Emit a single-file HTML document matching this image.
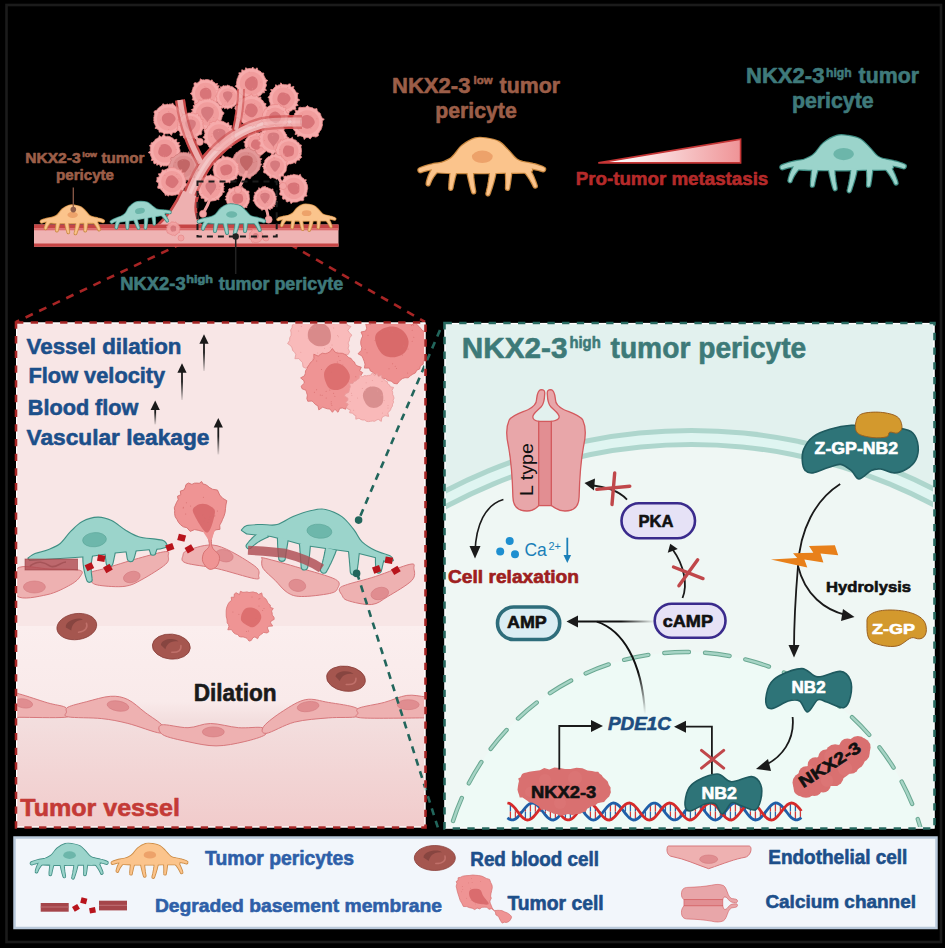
<!DOCTYPE html>
<html><head><meta charset="utf-8"><style>
html,body{margin:0;padding:0;background:#000;}
svg{display:block;}
text{font-family:"Liberation Sans",sans-serif;font-weight:bold;stroke-width:0.6px;stroke-linejoin:round;}
.pb{fill:var(--f);stroke:var(--o);stroke-width:var(--bw,2.4);stroke-linejoin:round;}
.pf{fill:var(--f);stroke:var(--f);stroke-width:var(--fw,0);stroke-linejoin:round;}
.pn{fill:var(--n);}
</style></head><body>
<svg width="945" height="948" viewBox="0 0 945 948">
<defs>
<linearGradient id="lpbg" x1="0" y1="322" x2="0" y2="828" gradientUnits="userSpaceOnUse">
<stop offset="0" stop-color="#f8e6e6"/><stop offset="0.6" stop-color="#f8e6e6"/><stop offset="0.601" stop-color="#fbeeee"/><stop offset="0.75" stop-color="#f9eaea"/><stop offset="0.787" stop-color="#f3dede"/><stop offset="1" stop-color="#f1cbcb"/>
</linearGradient>
<linearGradient id="tri" x1="598" y1="0" x2="741" y2="0" gradientUnits="userSpaceOnUse">
<stop offset="0.12" stop-color="#ffffff"/><stop offset="1" stop-color="#ef9396"/>
</linearGradient>
<linearGradient id="fadeL" x1="570" y1="0" x2="655" y2="0" gradientUnits="userSpaceOnUse">
<stop offset="0.6" stop-color="#111"/><stop offset="1" stop-color="#111" stop-opacity="0"/>
</linearGradient>
<linearGradient id="fadeD" x1="0" y1="621" x2="0" y2="714" gradientUnits="userSpaceOnUse">
<stop offset="0.55" stop-color="#111"/><stop offset="1" stop-color="#111" stop-opacity="0"/>
</linearGradient>
<clipPath id="rpclip"><rect x="445.5" y="324" width="488" height="503.5"/></clipPath>
<clipPath id="lpclip"><rect x="17" y="323.5" width="407.5" height="503"/></clipPath>
<g id="peri"><g class="pb"><path d="M20.2,36.8 C22.9,34.5 32.1,31.8 36.5,28.4 C41,25 42.9,19.8 46.9,16.5 C50.8,13.3 56,10.2 60.2,9 C64.4,7.7 68.1,8.5 72.1,9.1 C76,9.7 80.5,10.5 83.9,12.4 C87.4,14.3 89.9,17.6 92.8,20.5 C95.8,23.4 98.2,27.4 101.7,29.9 C105.2,32.3 111.3,33.2 113.6,35.3 C115.8,37.4 119.5,41.1 115,42.4 C110.6,43.8 96.5,43 86.9,43.2 C77.3,43.4 68.4,43.8 57.3,43.6 C46.1,43.5 26.4,43.6 20.2,42.4 C14,41.3 17.5,39.2 20.2,36.8Z"/><path d="M18,38.5 L17.2,39.8 L16.5,41 L15.7,42.3 L15.1,43.5 L14.5,44.8 L13.9,46.1 L13.4,47.4 L13,48.7 L12.6,50 L12.2,51.3 L11.9,52.6 L11.7,53.9 A1.5,1.5 0 0 0 14.6,54.7 L14.6,54.7 L15,53.5 L15.5,52.4 L16,51.3 L16.5,50.2 L17.1,49.1 L17.8,48 L18.4,47 L19.2,46 L19.9,44.9 L20.7,43.9 L21.6,42.9 L22.4,41.9Z"/><path d="M36,40.4 L35.8,41.9 L35.6,43.4 L35.4,44.9 L35.2,46.5 L35.1,48 L34.9,49.5 L34.8,51 L34.7,52.5 L34.5,54 L34.4,55.6 L34.4,57.1 L34.3,58.6 A1.5,1.5 0 0 0 37.3,58.9 L37.3,58.9 L37.6,57.5 L37.8,56 L38.2,54.6 L38.5,53.1 L38.8,51.7 L39.2,50.2 L39.5,48.8 L39.9,47.3 L40.3,45.9 L40.7,44.4 L41.1,43 L41.5,41.6Z"/><path d="M52.3,42 L52.5,43.6 L52.9,45.3 L53.2,47 L53.6,48.7 L54,50.4 L54.4,52.1 L54.8,53.8 L55.2,55.6 L55.7,57.4 L56.2,59.2 L56.7,61 L57.3,62.8 A1.5,1.5 0 0 0 60.2,62.1 L60.2,62.1 L59.9,60.2 L59.6,58.4 L59.3,56.6 L59,54.8 L58.8,53.1 L58.6,51.3 L58.4,49.6 L58.2,47.9 L58.1,46.3 L58,44.6 L57.9,43 L57.8,41.4Z"/><path d="M75.2,41.3 L75.1,43.2 L74.9,45 L74.7,46.9 L74.4,48.7 L74.2,50.6 L73.9,52.5 L73.5,54.4 L73.2,56.4 L72.8,58.3 L72.3,60.3 L71.9,62.2 L71.4,64.2 A1.5,1.5 0 0 0 74.2,65.1 L74.2,65.1 L75,63.2 L75.6,61.2 L76.3,59.3 L76.9,57.3 L77.5,55.4 L78.1,53.5 L78.6,51.6 L79.1,49.6 L79.6,47.7 L80,45.8 L80.4,44 L80.8,42.1Z"/><path d="M90.8,41 L90.9,42.4 L90.9,43.9 L91,45.3 L91.1,46.8 L91.1,48.3 L91.1,49.7 L91.2,51.2 L91.2,52.7 L91.2,54.1 L91.1,55.6 L91.1,57.1 L91,58.6 A1.5,1.5 0 0 0 94,58.9 L94,58.9 L94.3,57.4 L94.5,55.9 L94.8,54.5 L95,53 L95.2,51.5 L95.4,50 L95.6,48.5 L95.8,47 L96,45.5 L96.1,44 L96.2,42.5 L96.4,41Z"/><path d="M109.1,41.9 L110,42.9 L110.9,44 L111.8,45.1 L112.6,46.2 L113.4,47.4 L114.3,48.7 L115.1,49.9 L115.8,51.3 L116.6,52.6 L117.4,54.1 L118.1,55.5 L118.8,57.1 A1.5,1.5 0 0 0 121.6,56 L121.6,56 L121.1,54.3 L120.5,52.7 L119.9,51.1 L119.3,49.6 L118.7,48.1 L118,46.6 L117.4,45.2 L116.6,43.8 L115.9,42.4 L115.1,41.1 L114.4,39.8 L113.5,38.5Z"/><path d="M36.7,33.2 L33.9,33.2 L31.1,33.2 L28.4,33.3 L25.6,33.5 L22.9,33.9 L20.2,34.3 L17.6,34.8 L15,35.4 L12.4,36.1 L9.8,36.9 L7.2,37.8 L4.7,38.8 A1.9,1.9 0 0 0 6.1,42.5 L6.1,42.5 L8.5,41.7 L11,41 L13.5,40.4 L15.9,39.9 L18.4,39.5 L20.9,39.2 L23.5,39 L26,38.8 L28.6,38.8 L31.1,38.8 L33.7,39 L36.3,39.2Z"/><path d="M100.2,38 L102.8,38 L105.3,38.1 L107.8,38.2 L110.3,38.3 L112.6,38.5 L114.9,38.8 L117.2,39.1 L119.3,39.5 L121.4,40 L123.5,40.4 L125.5,41 L127.4,41.6 A1.9,1.9 0 0 0 128.8,38 L128.8,38 L126.8,37.1 L124.7,36.4 L122.6,35.7 L120.4,35 L118.1,34.5 L115.7,33.9 L113.3,33.5 L110.9,33.1 L108.3,32.7 L105.7,32.4 L103,32.2 L100.3,32Z"/></g><g class="pf"><path d="M20.2,36.8 C22.9,34.5 32.1,31.8 36.5,28.4 C41,25 42.9,19.8 46.9,16.5 C50.8,13.3 56,10.2 60.2,9 C64.4,7.7 68.1,8.5 72.1,9.1 C76,9.7 80.5,10.5 83.9,12.4 C87.4,14.3 89.9,17.6 92.8,20.5 C95.8,23.4 98.2,27.4 101.7,29.9 C105.2,32.3 111.3,33.2 113.6,35.3 C115.8,37.4 119.5,41.1 115,42.4 C110.6,43.8 96.5,43 86.9,43.2 C77.3,43.4 68.4,43.8 57.3,43.6 C46.1,43.5 26.4,43.6 20.2,42.4 C14,41.3 17.5,39.2 20.2,36.8Z"/><path d="M18,38.5 L17.2,39.8 L16.5,41 L15.7,42.3 L15.1,43.5 L14.5,44.8 L13.9,46.1 L13.4,47.4 L13,48.7 L12.6,50 L12.2,51.3 L11.9,52.6 L11.7,53.9 A1.5,1.5 0 0 0 14.6,54.7 L14.6,54.7 L15,53.5 L15.5,52.4 L16,51.3 L16.5,50.2 L17.1,49.1 L17.8,48 L18.4,47 L19.2,46 L19.9,44.9 L20.7,43.9 L21.6,42.9 L22.4,41.9Z"/><path d="M36,40.4 L35.8,41.9 L35.6,43.4 L35.4,44.9 L35.2,46.5 L35.1,48 L34.9,49.5 L34.8,51 L34.7,52.5 L34.5,54 L34.4,55.6 L34.4,57.1 L34.3,58.6 A1.5,1.5 0 0 0 37.3,58.9 L37.3,58.9 L37.6,57.5 L37.8,56 L38.2,54.6 L38.5,53.1 L38.8,51.7 L39.2,50.2 L39.5,48.8 L39.9,47.3 L40.3,45.9 L40.7,44.4 L41.1,43 L41.5,41.6Z"/><path d="M52.3,42 L52.5,43.6 L52.9,45.3 L53.2,47 L53.6,48.7 L54,50.4 L54.4,52.1 L54.8,53.8 L55.2,55.6 L55.7,57.4 L56.2,59.2 L56.7,61 L57.3,62.8 A1.5,1.5 0 0 0 60.2,62.1 L60.2,62.1 L59.9,60.2 L59.6,58.4 L59.3,56.6 L59,54.8 L58.8,53.1 L58.6,51.3 L58.4,49.6 L58.2,47.9 L58.1,46.3 L58,44.6 L57.9,43 L57.8,41.4Z"/><path d="M75.2,41.3 L75.1,43.2 L74.9,45 L74.7,46.9 L74.4,48.7 L74.2,50.6 L73.9,52.5 L73.5,54.4 L73.2,56.4 L72.8,58.3 L72.3,60.3 L71.9,62.2 L71.4,64.2 A1.5,1.5 0 0 0 74.2,65.1 L74.2,65.1 L75,63.2 L75.6,61.2 L76.3,59.3 L76.9,57.3 L77.5,55.4 L78.1,53.5 L78.6,51.6 L79.1,49.6 L79.6,47.7 L80,45.8 L80.4,44 L80.8,42.1Z"/><path d="M90.8,41 L90.9,42.4 L90.9,43.9 L91,45.3 L91.1,46.8 L91.1,48.3 L91.1,49.7 L91.2,51.2 L91.2,52.7 L91.2,54.1 L91.1,55.6 L91.1,57.1 L91,58.6 A1.5,1.5 0 0 0 94,58.9 L94,58.9 L94.3,57.4 L94.5,55.9 L94.8,54.5 L95,53 L95.2,51.5 L95.4,50 L95.6,48.5 L95.8,47 L96,45.5 L96.1,44 L96.2,42.5 L96.4,41Z"/><path d="M109.1,41.9 L110,42.9 L110.9,44 L111.8,45.1 L112.6,46.2 L113.4,47.4 L114.3,48.7 L115.1,49.9 L115.8,51.3 L116.6,52.6 L117.4,54.1 L118.1,55.5 L118.8,57.1 A1.5,1.5 0 0 0 121.6,56 L121.6,56 L121.1,54.3 L120.5,52.7 L119.9,51.1 L119.3,49.6 L118.7,48.1 L118,46.6 L117.4,45.2 L116.6,43.8 L115.9,42.4 L115.1,41.1 L114.4,39.8 L113.5,38.5Z"/><path d="M36.7,33.2 L33.9,33.2 L31.1,33.2 L28.4,33.3 L25.6,33.5 L22.9,33.9 L20.2,34.3 L17.6,34.8 L15,35.4 L12.4,36.1 L9.8,36.9 L7.2,37.8 L4.7,38.8 A1.9,1.9 0 0 0 6.1,42.5 L6.1,42.5 L8.5,41.7 L11,41 L13.5,40.4 L15.9,39.9 L18.4,39.5 L20.9,39.2 L23.5,39 L26,38.8 L28.6,38.8 L31.1,38.8 L33.7,39 L36.3,39.2Z"/><path d="M100.2,38 L102.8,38 L105.3,38.1 L107.8,38.2 L110.3,38.3 L112.6,38.5 L114.9,38.8 L117.2,39.1 L119.3,39.5 L121.4,40 L123.5,40.4 L125.5,41 L127.4,41.6 A1.9,1.9 0 0 0 128.8,38 L128.8,38 L126.8,37.1 L124.7,36.4 L122.6,35.7 L120.4,35 L118.1,34.5 L115.7,33.9 L113.3,33.5 L110.9,33.1 L108.3,32.7 L105.7,32.4 L103,32.2 L100.3,32Z"/></g><ellipse class="pn" cx="67.3" cy="27.3" rx="10.4" ry="6.2"/></g>
<marker id="ah" viewBox="0 0 10 10" refX="8" refY="5" markerWidth="4.2" markerHeight="4.2" orient="auto-start-reverse" markerUnits="strokeWidth">
<path d="M0,0 L10,5 L0,10 Z" fill="#1a1a1a"/></marker>
</defs>
<rect width="945" height="948" fill="#000"/>
<rect x="6.5" y="5" width="934.5" height="937" fill="none" stroke="#1b1b1b" stroke-width="2.6"/>

<g fill="#9c5e48" stroke="#9c5e48"><text x="392" y="92.5" font-size="22" textLength="78.4" lengthAdjust="spacingAndGlyphs">NKX2-3</text><text x="473.5" y="84.2" font-size="11.5" textLength="19" lengthAdjust="spacingAndGlyphs">low</text><text x="499.6" y="92.5" font-size="22" textLength="60.4" lengthAdjust="spacingAndGlyphs">tumor</text><text x="435.3" y="118.3" font-size="22" textLength="81.4" lengthAdjust="spacingAndGlyphs">pericyte</text></g>
<g fill="#3f7a7b" stroke="#3f7a7b"><text x="746" y="83.1" font-size="22" textLength="78.4" lengthAdjust="spacingAndGlyphs">NKX2-3</text><text x="826" y="77" font-size="12.5" textLength="25.6" lengthAdjust="spacingAndGlyphs">high</text><text x="858.6" y="83.1" font-size="22" textLength="60.4" lengthAdjust="spacingAndGlyphs">tumor</text><text x="791.9" y="108.3" font-size="22" textLength="81.8" lengthAdjust="spacingAndGlyphs">pericyte</text></g>
<path d="M598.3,162.9 L740.6,162.9 L740.6,139.3 Z" fill="url(#tri)" stroke="#c53535" stroke-width="1.6"/>
<text x="575.7" y="185.1" font-size="18.7" fill="#b52a2a" textLength="192.6" lengthAdjust="spacingAndGlyphs" stroke="#b52a2a">Pro-tumor metastasis</text>
<use href="#peri" transform="translate(415,129.5) scale(1.0)" style="--f:#fbc48c;--o:#c8873f;--n:#eda26a;--bw:2.4;--fw:0"/>
<use href="#peri" transform="translate(777,127) scale(0.99)" style="--f:#9bd4cb;--o:#3c8a80;--n:#6cb6aa;--bw:2.4;--fw:0"/>
<g fill="#9c5e48" stroke="#9c5e48"><text x="25.2" y="162.5" font-size="14.8" textLength="55.5" lengthAdjust="spacingAndGlyphs">NKX2-3</text><text x="82.2" y="157" font-size="8" textLength="14.8" lengthAdjust="spacingAndGlyphs">low</text><text x="101.5" y="162.5" font-size="14.8" textLength="42.9" lengthAdjust="spacingAndGlyphs">tumor</text><text x="56" y="180" font-size="14.8" textLength="58" lengthAdjust="spacingAndGlyphs">pericyte</text></g>
<g fill="#3f7a7b" stroke="#3f7a7b"><text x="120.2" y="290" font-size="17.8" textLength="65.5" lengthAdjust="spacingAndGlyphs">NKX2-3</text><text x="186.2" y="282.5" font-size="10.5" textLength="26.7" lengthAdjust="spacingAndGlyphs">high</text><text x="218.7" y="290" font-size="17.8" textLength="124.4" lengthAdjust="spacingAndGlyphs">tumor pericyte</text></g>
<g stroke="#a82525" stroke-width="2.6" stroke-dasharray="8 7" fill="none"><path d="M195.5,237 L16,322"/><path d="M277,237 L425,322"/></g>
<g opacity="1">
<g fill="none" stroke-linecap="butt"><path d="M180,226 C184,210 192,182 208,160 C222,143 240,130 262,124 C275,121 288,122 302,122" stroke="#c84848" stroke-width="14"/><path d="M236,130 C239,117 241,104 241,89" stroke="#c84848" stroke-width="8"/><path d="M201,163 C193,148 184,130 180,100" stroke="#c84848" stroke-width="10"/><path d="M180,226 C184,210 192,182 208,160 C222,143 240,130 262,124 C275,121 288,122 302,122" stroke="#eeb0b0" stroke-width="9"/><path d="M236,130 C239,117 241,104 241,89" stroke="#eeb0b0" stroke-width="4"/><path d="M201,163 C193,148 184,130 180,100" stroke="#eeb0b0" stroke-width="5.5"/><path d="M180,226 C184,210 192,182 208,160 C222,143 240,130 262,124 C275,121 288,122 302,122" stroke="#f3c6c6" stroke-width="3"/></g>
<path d="M158,226 C168,216 176,204 182,190 L196,196 C194,206 195,216 201,226 Z" fill="#eeb0b0"/>
<path d="M158,225 C168,216 176,204 182,190" fill="none" stroke="#c84848" stroke-width="2.6"/>
<path d="M201,226 C195,216 194,206 198,195" fill="none" stroke="#c84848" stroke-width="2.6"/>
</g>
<g><path d="M265.9,83.4 L266.5,84.7 L266.3,86 L265.6,87.2 L265.2,88.4 L266.5,90.4 L264.1,90.7 L264.7,92.7 L262.6,92.8 L261.8,93.8 L261,94.8 L260.1,95.8 L258.7,96.1 L257.8,97.2 L257,98.9 L255.3,98 L254.3,99.9 L252.7,97.9 L251.4,100 L250.1,97.9 L248.9,97.7 L247.6,97.7 L245.7,99.1 L245.1,96.9 L244.1,96.1 L242.7,95.8 L241.7,95 L241,93.8 L240.1,92.9 L237.8,92.9 L238.3,91 L238.2,89.6 L237.4,88.5 L236.7,87.3 L235.1,86.3 L236.5,84.7 L236.4,83.4 L236.6,82.1 L236.9,80.9 L237,79.5 L237.4,78.3 L238.1,77.2 L238.3,75.8 L239.3,74.9 L238.8,72.8 L240.8,72.8 L241.7,71.9 L241.8,69.7 L243.9,70.5 L245.2,70.1 L245.7,67.7 L247.5,68.8 L248.8,68.6 L250.1,68.4 L251.4,68.5 L252.8,67 L254,68.7 L255.2,69.3 L257.1,67.8 L257.8,69.7 L258.7,70.8 L260,71.1 L261,71.9 L261.7,73.1 L263.8,73 L263.6,74.8 L264.1,76.1 L264.7,77.2 L265.4,78.3 L265.8,79.5 L267.8,80.5 L266.2,82.1Z" fill="#f6abab" stroke="#e88a8a" stroke-width="0.8" stroke-linejoin="miter"/><circle cx="251.4" cy="83.4" r="11.6" fill="#f19d9d"/><path d="M257.7,83.4 C257.7,84.9 257.4,86.6 256.6,87.8 C255.8,89 254.1,90.3 252.7,90.6 C251.2,90.9 249.2,90.2 248,89.4 C246.7,88.5 245.6,87 245.1,85.7 C244.7,84.3 244.8,82.5 245.4,81.2 C245.9,79.9 247.1,78.9 248.3,78 C249.5,77.2 251.3,76 252.7,76.2 C254.1,76.3 255.9,77.7 256.8,78.9 C257.6,80.1 257.8,81.9 257.7,83.4Z" fill="#d87478"/><g fill="#e88a8a"><circle cx="260.9" cy="82.1" r="0.5"/><circle cx="249.1" cy="72" r="0.5"/><circle cx="252.6" cy="88.8" r="0.5"/><circle cx="246.5" cy="79.7" r="0.5"/><circle cx="242" cy="91.9" r="0.5"/><circle cx="255.6" cy="79" r="0.5"/></g></g>
<g><path d="M219.2,93.5 L219.2,94.7 L219,95.8 L219.2,97.1 L218.6,98.2 L218.2,99.3 L218.8,101.1 L217.1,101.5 L216.2,102.3 L215.3,103.1 L214.5,104 L213.5,104.7 L212.5,105.2 L212.3,107.6 L210.5,106.6 L209.3,106.9 L208.1,107.3 L206.9,107.2 L205.7,107.2 L204.5,107.2 L203.3,107 L201.7,108.4 L201.1,106.1 L199.9,106 L198,106.8 L197.9,104.7 L197.1,103.8 L194.8,104.4 L194.2,103.1 L194.4,101.4 L194,100.3 L192.1,99.8 L193,98.1 L192.7,97 L192.4,95.9 L191.8,94.7 L190.2,93.5 L192.1,92.3 L192,91.1 L192.4,89.9 L192.8,88.8 L193,87.6 L193.9,86.7 L194.2,85.4 L193.9,83.6 L194.8,82.6 L197.1,83.2 L198,82.4 L199,81.8 L199.9,81.1 L200.4,78.8 L202.1,79.9 L203.3,79.7 L204.5,80 L205.7,79.6 L206.9,79.6 L208.1,79.7 L209.3,80 L210.3,80.8 L212.1,79.8 L212.7,81.4 L213.7,82.1 L214.7,82.7 L215.4,83.8 L217.6,83.5 L216.8,85.7 L219.2,85.7 L218.4,87.6 L218.5,88.8 L220.2,89.6 L219.3,91.1 L219.6,92.3Z" fill="#f6abab" stroke="#e88a8a" stroke-width="0.8" stroke-linejoin="miter"/><circle cx="205.7" cy="93.5" r="10.7" fill="#f19d9d"/><path d="M211.4,93.5 C211.5,94.8 211.5,96.6 210.8,97.7 C210,98.8 208.2,99.9 206.9,100.1 C205.5,100.2 203.8,99.5 202.7,98.7 C201.5,98 200.5,96.7 200.1,95.5 C199.7,94.3 199.8,92.7 200.2,91.5 C200.7,90.4 201.8,89.2 202.9,88.6 C203.9,88 205.5,87.5 206.7,87.7 C207.9,87.9 209.4,88.8 210.2,89.8 C211,90.7 211.3,92.2 211.4,93.5Z" fill="#d87478"/><g fill="#e88a8a"><circle cx="217" cy="90.6" r="0.5"/><circle cx="204.9" cy="86.7" r="0.5"/><circle cx="200.5" cy="102.8" r="0.5"/><circle cx="207.2" cy="89.6" r="0.5"/><circle cx="211.6" cy="103.7" r="0.5"/><circle cx="213.3" cy="100.5" r="0.5"/></g></g>
<g><path d="M238.6,97 L239,98 L238.8,99 L238.5,99.9 L238.1,100.8 L238.9,102.2 L237.2,102.5 L236.8,103.4 L236.1,104 L235.6,104.9 L234.9,105.6 L234.1,106.2 L233.2,106.5 L232.3,106.9 L231.9,108.5 L230.6,107.9 L229.6,108 L228.7,108.2 L227.7,109.3 L226.7,108 L225.7,108.2 L224.6,108.8 L223.9,107.3 L222.5,108.2 L221.5,107.8 L221.3,106.1 L220.5,105.6 L219.9,104.8 L218.2,105 L218.4,103.5 L217.9,102.7 L217.5,101.7 L216.1,101.2 L216.7,99.9 L216.8,98.9 L216.5,98 L216.4,97 L215.3,95.9 L216.8,95.1 L216.8,94.1 L217.2,93.2 L217.4,92.2 L218,91.4 L218.6,90.6 L219,89.7 L219,88.3 L220.6,88.5 L220.5,86.7 L222,87.1 L222.6,86 L223.6,85.6 L224.8,86.1 L225.7,85.8 L226.7,86 L227.7,84.8 L228.7,85.8 L229.7,85.8 L230.5,86.4 L231.5,86.6 L232.4,86.8 L233.2,87.5 L234.1,87.9 L234.7,88.6 L235.6,89.1 L236.1,89.9 L236.6,90.7 L237.3,91.5 L237.6,92.4 L239.1,92.8 L238.3,94.2 L238.6,95.1 L238.7,96Z" fill="#f6abab" stroke="#e88a8a" stroke-width="0.8" stroke-linejoin="miter"/><circle cx="227.7" cy="97" r="8.7" fill="#f19d9d"/><path d="M227.7,103 C225.8,99.7 222.6,97.9 223,94.1 C223.5,90.4 231.9,90.4 232.4,94.1 C232.8,97.9 229.6,99.7 227.7,103 Z" fill="#d67a7e"/><g fill="#e88a8a"><circle cx="232.3" cy="92.5" r="0.5"/><circle cx="230.2" cy="87.5" r="0.5"/><circle cx="224.3" cy="105.2" r="0.5"/><circle cx="225.2" cy="101.3" r="0.5"/><circle cx="222.6" cy="104.2" r="0.5"/><circle cx="232.7" cy="103.7" r="0.5"/></g></g>
<g><path d="M297.6,98.6 L299.8,100 L297.8,101.1 L297.5,102.3 L296.9,103.4 L298.2,105.4 L296.2,105.9 L295.4,106.8 L295.9,108.9 L294.7,109.7 L292.9,109.6 L291.9,110.5 L290.8,111.1 L289.5,111.3 L289,113.3 L287.7,113.7 L286.1,112.8 L284.8,112.9 L283.6,113.1 L282.3,113 L281.1,113 L279.8,112.6 L278.7,112.1 L277.5,111.8 L276.5,111 L275.5,110.1 L274.4,109.6 L272.6,109.6 L272.5,108 L272.1,106.7 L271.2,105.8 L270.4,104.8 L270.2,103.5 L269.9,102.3 L269.3,101.1 L269.2,99.9 L269.1,98.6 L267.9,97.2 L269.4,96.1 L270,95 L269.9,93.6 L270.5,92.5 L271.5,91.6 L270.7,89.5 L272.9,89.6 L273.5,88.5 L274.3,87.6 L275.4,86.9 L275.6,84.7 L277.6,85.8 L278.6,84.9 L280,85 L280.8,82.8 L282.4,84.5 L283.6,84.4 L284.8,84.7 L286.1,84.7 L287.3,85 L289,83.9 L290.4,83.9 L290.6,86.4 L291.6,87.1 L293.9,86.3 L293.5,88.7 L294.5,89.4 L295.1,90.6 L295.8,91.6 L296.3,92.7 L298.4,93.2 L297.5,94.9 L297.5,96.1 L297.6,97.4Z" fill="#f6abab" stroke="#e88a8a" stroke-width="0.8" stroke-linejoin="miter"/><circle cx="283.6" cy="98.6" r="11.2" fill="#f19d9d"/><path d="M290.6,98.6 C290.6,100 289.4,101.5 288.4,102.6 C287.5,103.8 286.1,105.1 284.8,105.3 C283.5,105.6 281.7,104.7 280.5,103.9 C279.3,103.1 278,102 277.6,100.8 C277.1,99.6 277.4,97.8 277.8,96.5 C278.3,95.2 279.2,93.6 280.4,93 C281.5,92.4 283.3,92.5 284.6,92.8 C286,93.1 287.5,93.6 288.5,94.5 C289.4,95.5 290.6,97.2 290.6,98.6Z" fill="#d87478"/><g fill="#e88a8a"><circle cx="280.6" cy="86.7" r="0.5"/><circle cx="296.1" cy="99.9" r="0.5"/><circle cx="285.8" cy="94.1" r="0.5"/><circle cx="287.7" cy="87.6" r="0.5"/><circle cx="288.4" cy="110.4" r="0.5"/><circle cx="277.6" cy="105.5" r="0.5"/></g></g>
<g><path d="M185.2,119 L183.2,120.3 L184.4,121.8 L182.6,122.8 L183.8,124.6 L182.3,125.4 L183.1,127.4 L181.8,128.3 L179.8,128.4 L179.9,130.4 L178,130.3 L176.9,131 L176.1,132.1 L174.9,132.7 L173.5,132.6 L172.3,133 L171.4,135.4 L169.8,133.5 L168.5,133.6 L167.2,133.8 L165.9,133.5 L164.3,134.6 L163.4,133 L162.2,132.5 L161,132.1 L159.2,132.2 L158.9,130.5 L158,129.5 L157,128.7 L155,128.4 L155.9,126.3 L155.2,125.2 L154.8,124 L153.9,122.9 L154.1,121.5 L153.7,120.3 L154,119 L153.7,117.7 L154.1,116.5 L154.2,115.2 L154.9,114 L153.9,112.2 L154.5,110.9 L156.2,110.4 L157.3,109.6 L158,108.5 L158.9,107.6 L160,106.9 L161,105.9 L162.2,105.6 L162.9,103.7 L164.7,104.7 L166,104.7 L167.2,104 L168.5,104.5 L169.8,103.9 L171.1,104.2 L172.8,103.1 L173.6,105 L174.8,105.4 L175.7,106.5 L177.1,106.7 L177.9,107.8 L178.7,108.8 L180,109.3 L180.9,110.3 L181.1,111.7 L181.7,112.8 L182.3,114 L182.5,115.2 L183.4,116.4 L185,117.6Z" fill="#f6abab" stroke="#e88a8a" stroke-width="0.8" stroke-linejoin="miter"/><circle cx="168.5" cy="119" r="11.6" fill="#f19d9d"/><path d="M175.6,119 C175.6,120.4 174.3,121.9 173.3,123 C172.3,124.2 171.1,125.9 169.8,126.2 C168.4,126.4 166.4,125.6 165.2,124.8 C163.9,124 162.9,122.6 162.4,121.2 C161.8,119.9 161.6,117.9 162.1,116.7 C162.6,115.4 164.1,114.2 165.4,113.6 C166.6,113 168.2,112.6 169.6,112.8 C170.9,113 172.5,113.7 173.5,114.8 C174.5,115.8 175.7,117.6 175.6,119Z" fill="#d87478"/><g fill="#e88a8a"><circle cx="168.7" cy="129.5" r="0.5"/><circle cx="179.4" cy="117.1" r="0.5"/><circle cx="160.3" cy="119.9" r="0.5"/><circle cx="177.1" cy="129.2" r="0.5"/><circle cx="168.7" cy="111.4" r="0.5"/><circle cx="159" cy="112.6" r="0.5"/></g></g>
<g><path d="M223.8,113.9 L222.5,115.2 L222.3,116.5 L221.8,117.8 L221.6,119.1 L220.8,120.2 L221.9,122.3 L219.7,122.5 L218.9,123.5 L218.9,125.4 L217.9,126.4 L216.1,126.3 L215,127.1 L214.5,129.1 L212.4,127.5 L211.2,128.1 L210,128.8 L208.7,129 L207.4,128.6 L206.1,128.9 L204.5,130.2 L203.6,128 L202.2,128.1 L201,127.6 L199.8,127 L198.7,126.3 L197.7,125.5 L196.9,124.4 L196,123.5 L195.2,122.4 L194.5,121.4 L194,120.1 L193.6,118.9 L192.8,117.8 L192.6,116.5 L192.6,115.2 L192.3,113.9 L190.9,112.5 L192.9,111.3 L191.3,109.6 L193.4,108.8 L193.7,107.5 L193.1,105.6 L195,105.2 L194.8,103.4 L197,103.5 L197.7,102.3 L198.8,101.6 L199.1,99.6 L201.2,100.6 L202.3,99.9 L203.6,99.8 L204.8,99.1 L206.1,99.2 L207.4,98.9 L208.7,99.1 L210.2,97.9 L211.2,99.9 L212.5,99.8 L213.5,100.7 L214.8,101 L215.8,101.9 L217,102.4 L218,103.3 L218.7,104.4 L219.4,105.5 L221.9,105.5 L222.1,107.1 L221.1,108.9 L221.9,110 L222,111.3 L223.9,112.5Z" fill="#f6abab" stroke="#e88a8a" stroke-width="0.8" stroke-linejoin="miter"/><circle cx="207.4" cy="113.9" r="11.6" fill="#f19d9d"/><path d="M207.4,122.2 C204.9,117.9 200.5,115.4 201.2,110.4 C201.8,105.4 213,105.4 213.6,110.4 C214.3,115.4 209.9,117.9 207.4,122.2 Z" fill="#d67a7e"/><g fill="#e88a8a"><circle cx="215.7" cy="122.8" r="0.5"/><circle cx="213.9" cy="107.8" r="0.5"/><circle cx="206.2" cy="120.8" r="0.5"/><circle cx="213.7" cy="117.4" r="0.5"/><circle cx="211.1" cy="125.8" r="0.5"/><circle cx="209.9" cy="120.4" r="0.5"/></g></g>
<g><path d="M203.3,125.7 L203.3,126.8 L204.3,128.1 L202.8,129 L202.2,130 L201.9,131 L201.5,132.1 L201.8,133.6 L201.2,134.7 L199.6,134.8 L198.5,135.3 L197.8,136.1 L196.7,136.5 L195.9,137.4 L194.8,137.4 L193.7,137.8 L192.7,138.4 L191.6,138.3 L190.5,139.9 L189.4,138.4 L188.3,138.2 L187.2,137.9 L186.2,137.4 L184.6,138.3 L183.5,137.8 L183.3,136 L182.4,135.4 L180.3,135.9 L179.8,134.7 L180.3,132.9 L179.6,132 L179.2,131 L178.4,130.1 L176.6,129.4 L177.8,127.9 L177.5,126.8 L177.7,125.7 L177.9,124.6 L178,123.5 L178.1,122.4 L178.7,121.4 L177.7,119.7 L179.5,119.4 L180,118.3 L180.6,117.4 L181.4,116.6 L182.5,116.1 L182.4,114.1 L184.1,114.6 L185.1,114.2 L186.2,114 L187.3,113.7 L188.3,113.1 L189.4,112.9 L190.5,113 L191.6,112.9 L192.7,113.1 L193.8,113.2 L194.8,113.9 L196,114 L197.6,113.3 L198.5,114.3 L198.6,116.1 L200.4,115.8 L200.4,117.4 L201,118.4 L201.3,119.5 L203.4,119.7 L202.3,121.4 L203,122.3 L202.9,123.5 L202.9,124.6Z" fill="#f6abab" stroke="#e88a8a" stroke-width="0.8" stroke-linejoin="miter"/><circle cx="190.5" cy="125.7" r="9.9" fill="#f19d9d"/><path d="M190.5,132.7 C188.4,129 184.6,126.8 185.2,122.6 C185.7,118.3 195.3,118.3 195.8,122.6 C196.4,126.8 192.6,129 190.5,132.7 Z" fill="#d67a7e"/><g fill="#e88a8a"><circle cx="189" cy="133.8" r="0.5"/><circle cx="185.7" cy="124.2" r="0.5"/><circle cx="179.3" cy="125.5" r="0.5"/><circle cx="182.5" cy="122.4" r="0.5"/><circle cx="192.5" cy="117.8" r="0.5"/><circle cx="188.8" cy="136.2" r="0.5"/></g></g>
<g><path d="M266.5,110.5 L266,111.8 L267.9,113.4 L265.5,114.3 L265.1,115.5 L264.9,116.8 L264.1,117.8 L263.3,118.8 L263,120.3 L261.7,120.8 L260.8,121.7 L259.9,122.6 L258.7,123.1 L257.6,123.8 L256.5,124.4 L255.7,126.6 L253.9,124.8 L252.8,126.8 L251.4,125.7 L250.1,125.5 L248.8,125.4 L247.6,124.5 L246.4,124.4 L245,124.3 L243.8,123.7 L242.7,122.9 L242,121.7 L241.1,120.8 L240.3,119.8 L238.9,119.2 L238.6,117.9 L236.7,117.4 L235.8,116.2 L236.8,114.4 L237,113 L236.8,111.8 L236.6,110.5 L234.8,109 L235.1,107.6 L235.2,106.2 L237.5,105.4 L238.3,104.4 L236.9,102.1 L239,101.8 L240.3,101.2 L239.5,98.6 L241.7,99 L243.1,98.6 L244,97.6 L245.2,97.2 L246.4,96.7 L247.6,96.4 L248.8,95.6 L250.1,95.6 L251.4,93.7 L252.7,95.9 L254,96 L255.3,96.1 L257.1,94.7 L257.6,97.1 L258.9,97.5 L260.9,97 L260.9,99.1 L261.8,100.1 L263,100.7 L263.5,102 L264.2,103.1 L266.1,103.7 L265.5,105.4 L265.9,106.6 L267.6,107.7 L266.2,109.2Z" fill="#f6abab" stroke="#e88a8a" stroke-width="0.8" stroke-linejoin="miter"/><circle cx="251.4" cy="110.5" r="11.6" fill="#f19d9d"/><path d="M257.7,110.5 C257.7,111.8 257,113.3 256.1,114.4 C255.2,115.6 253.9,117 252.6,117.3 C251.3,117.6 249.5,116.7 248.2,116 C247,115.2 245.4,114.1 245,112.8 C244.5,111.6 245.1,109.8 245.6,108.4 C246,106.9 246.6,104.9 247.7,104.2 C248.9,103.4 251.2,103.3 252.6,103.7 C254,104.1 255.4,105.2 256.3,106.4 C257.2,107.5 257.8,109.2 257.7,110.5Z" fill="#d87478"/><g fill="#e88a8a"><circle cx="259.6" cy="106.9" r="0.5"/><circle cx="254.7" cy="103.7" r="0.5"/><circle cx="243.6" cy="111.4" r="0.5"/><circle cx="246.1" cy="109.1" r="0.5"/><circle cx="244.2" cy="114.6" r="0.5"/><circle cx="263.2" cy="113.5" r="0.5"/></g></g>
<g><path d="M322.4,122.3 L322.3,123.6 L322.5,125 L322.1,126.3 L321.8,127.6 L321.3,128.8 L320.9,130.1 L319.7,131 L319.3,132.4 L318.2,133.2 L318.5,135.6 L317.2,136.4 L315.9,137.1 L314,136.6 L312.4,136.4 L311.3,137.4 L310.2,139 L308.6,137.7 L307.3,137.5 L306,137.6 L304.3,139.5 L303.4,136.9 L302.2,136.4 L300.9,135.9 L299.5,135.9 L297.4,136.4 L297.4,134.1 L295,134.6 L295.7,132 L294.8,131 L293.9,130.1 L293.2,128.9 L293.2,127.4 L292.2,126.3 L292,125 L290.5,123.8 L292,122.3 L292.2,121 L290.7,119.4 L292.4,118.3 L292.9,117 L293.4,115.8 L294.3,114.8 L294.6,113.4 L295.8,112.6 L295,110 L297.6,110.7 L298.5,109.7 L298.8,107.6 L300.2,107.2 L302,107.6 L303.3,107.3 L304.7,107.3 L306,107.1 L307.3,105.6 L308.7,106.8 L309.9,107.3 L311.2,107.6 L312.6,107.8 L313.7,108.7 L315,109 L316.9,108.6 L317.2,110.5 L318,111.6 L318.9,112.6 L320.2,113.3 L320.7,114.6 L321,115.9 L321.6,117.1 L322.4,118.3 L324.3,119.3 L322.3,121Z" fill="#f6abab" stroke="#e88a8a" stroke-width="0.8" stroke-linejoin="miter"/><circle cx="307.3" cy="122.3" r="12" fill="#f19d9d"/><path d="M314.8,122.3 C314.7,123.8 313.3,125.4 312.3,126.5 C311.2,127.5 309.8,128.4 308.4,128.6 C307,128.8 305.4,128.5 304.1,127.8 C302.8,127.2 301.1,126.1 300.5,124.8 C299.8,123.4 299.8,121.3 300.3,119.8 C300.8,118.3 302.1,116.5 303.5,115.7 C304.9,115 307,114.9 308.5,115.2 C310.1,115.6 311.7,116.6 312.7,117.7 C313.8,118.9 314.8,120.8 314.8,122.3Z" fill="#d87478"/><g fill="#e88a8a"><circle cx="310.8" cy="115.7" r="0.5"/><circle cx="316.8" cy="118.7" r="0.5"/><circle cx="298.3" cy="129" r="0.5"/><circle cx="310.8" cy="128.6" r="0.5"/><circle cx="300.5" cy="125.9" r="0.5"/><circle cx="302.7" cy="113.9" r="0.5"/></g></g>
<g><path d="M288,117.3 L287.7,118.4 L287.5,119.5 L287.6,120.6 L286.9,121.6 L288.1,123.4 L286.3,123.8 L286.7,125.4 L284.9,125.5 L283.9,126.1 L283.1,126.9 L282.5,127.9 L282.2,129.7 L280.5,128.9 L279.4,129 L278.4,129.7 L277.4,130.1 L276.2,130.2 L275.1,130.1 L273.9,131.3 L272.9,129.8 L271.9,129.4 L270.8,129 L269.6,129.1 L268.8,128.3 L267.8,127.7 L266.9,127 L265.9,126.5 L265.2,125.6 L263.4,125.5 L263.9,123.8 L263.6,122.7 L263.1,121.7 L261.3,121 L262.5,119.5 L261.3,118.5 L261,117.3 L262.4,116.2 L262.5,115.1 L262.5,113.9 L263,112.9 L263.6,111.9 L264.1,110.9 L264.5,109.9 L265.2,109 L266.2,108.4 L267,107.6 L267.8,106.8 L268.7,106.3 L269.7,105.7 L270.7,105.1 L271.8,105.1 L272.9,104.7 L274,104.8 L275.1,104.4 L276.2,104.5 L277.3,104.7 L278.7,103.8 L279.8,104.3 L280.4,105.9 L281.4,106.4 L283.3,105.6 L283.3,107.5 L285.2,107.2 L286.1,108 L285.4,110.1 L285.9,111.1 L286.8,111.9 L287,113 L288.9,113.6 L289,114.9 L287.6,116.2Z" fill="#f6abab" stroke="#e88a8a" stroke-width="0.8" stroke-linejoin="miter"/><circle cx="275.1" cy="117.3" r="9.9" fill="#f19d9d"/><path d="M281.2,117.3 C281.2,118.5 280.4,120.1 279.6,121.1 C278.7,122 277.3,123.1 276.1,123.2 C275,123.3 273.6,122.4 272.5,121.8 C271.4,121.1 270.1,120.4 269.6,119.3 C269.1,118.2 269,116.4 269.5,115.2 C269.9,114.1 271.1,113 272.2,112.4 C273.4,111.8 274.9,111.4 276.1,111.7 C277.3,111.9 278.4,112.9 279.3,113.8 C280.1,114.7 281.1,116.1 281.2,117.3Z" fill="#d87478"/><g fill="#e88a8a"><circle cx="265.6" cy="118.4" r="0.5"/><circle cx="268" cy="110.6" r="0.5"/><circle cx="283.3" cy="111.5" r="0.5"/><circle cx="278.4" cy="122.6" r="0.5"/><circle cx="267.7" cy="119.5" r="0.5"/><circle cx="284.8" cy="115" r="0.5"/></g></g>
<g><path d="M233.9,135.9 L234.2,137.2 L235.5,138.8 L233.6,139.7 L233.3,141 L234.3,142.9 L232,143.2 L232.7,145.3 L230.7,145.4 L231.2,147.8 L229,147.5 L227.9,148.2 L226.7,148.7 L225.7,149.6 L224.5,150.2 L223.2,150.5 L221.8,150.3 L220.6,150.6 L219.3,150.5 L218,150.6 L216.7,150.8 L215.5,150.2 L214.3,149.7 L213.1,149.1 L212,148.5 L210.7,148.3 L209.5,147.5 L208.6,146.6 L208.2,145.2 L207.3,144.3 L206.7,143.2 L204.4,142.9 L204,141.5 L205,139.7 L204.7,138.5 L202.8,137.3 L204.4,135.9 L204.5,134.6 L205,133.4 L204.6,132 L203.9,130.3 L205.6,129.5 L206.6,128.5 L207.4,127.6 L207.7,126.1 L208.8,125.4 L209.9,124.7 L209.7,122.1 L211.7,122.8 L212.5,121.2 L214.1,121.6 L215.5,121.8 L216.5,119.9 L217.9,119.7 L219.3,120.8 L220.6,121 L221.9,121.2 L223.2,121.4 L224.3,122.1 L225.4,122.7 L226.6,123.3 L228.6,122.6 L228.9,124.5 L229.6,125.6 L231.7,125.5 L231.3,127.5 L231.8,128.7 L232.5,129.8 L233,130.9 L234.9,131.7 L233.8,133.3 L234.3,134.6Z" fill="#f6abab" stroke="#e88a8a" stroke-width="0.8" stroke-linejoin="miter"/><circle cx="219.3" cy="135.9" r="11.6" fill="#f19d9d"/><path d="M219.3,144.2 C216.8,139.9 212.4,137.4 213.1,132.4 C213.7,127.4 224.9,127.4 225.5,132.4 C226.2,137.4 221.8,139.9 219.3,144.2 Z" fill="#d67a7e"/><g fill="#e88a8a"><circle cx="231.6" cy="138.3" r="0.5"/><circle cx="218.5" cy="131.4" r="0.5"/><circle cx="212.2" cy="133.6" r="0.5"/><circle cx="228.5" cy="127.5" r="0.5"/><circle cx="215.9" cy="146" r="0.5"/><circle cx="211.4" cy="136.2" r="0.5"/></g></g>
<g><path d="M180.1,151 L179.9,152.3 L179.5,153.6 L179.6,154.9 L179.1,156.1 L178.6,157.4 L177.9,158.4 L176.9,159.3 L176.5,160.6 L175.6,161.6 L174.7,162.6 L174.4,164.5 L172.3,163.6 L171.2,164.4 L170.6,166.5 L168.8,165.2 L167.6,165.5 L166.3,166.1 L165,165.7 L163.7,166.1 L162.4,165.6 L160.7,167.1 L159.9,165.1 L158.8,164.4 L156.8,165.3 L156.4,163.3 L154.2,163.9 L153.5,162.5 L153.6,160.5 L151.3,160.6 L151.9,158.6 L151.5,157.3 L150.9,156.1 L150.5,154.9 L150.3,153.6 L148.2,152.5 L150.5,151 L150.2,149.7 L150.3,148.4 L150.4,147.1 L149.5,145.4 L151.3,144.6 L151,142.9 L152.7,142.4 L153.7,141.5 L154.7,140.7 L155.2,139.4 L156.5,138.8 L157.6,138.1 L158.7,137.5 L159.3,135.5 L161.3,137 L162.4,136.1 L163.6,134.5 L165,136 L166.3,136.4 L167.6,136.2 L168.9,136.5 L170.2,136.8 L171.3,137.5 L172.5,138 L173.5,138.9 L174.5,139.7 L176.8,139.2 L176.5,141.3 L177.2,142.4 L179.5,142.6 L178.2,144.8 L180.4,145.4 L179.1,147.2 L179.4,148.5 L179.9,149.7Z" fill="#f6abab" stroke="#e88a8a" stroke-width="0.8" stroke-linejoin="miter"/><circle cx="165" cy="151" r="11.6" fill="#f19d9d"/><path d="M172,151 C171.9,152.4 170.8,154 169.8,155 C168.8,156 167.4,156.8 166.1,157 C164.7,157.3 163,157.2 161.8,156.6 C160.5,156 158.9,154.7 158.4,153.4 C157.9,152.1 158.5,150.2 159,148.8 C159.5,147.4 160.2,145.5 161.4,144.8 C162.6,144 164.7,144 166.2,144.3 C167.6,144.6 169.2,145.6 170.1,146.7 C171.1,147.8 172,149.6 172,151Z" fill="#d87478"/><g fill="#e88a8a"><circle cx="165.3" cy="156.8" r="0.5"/><circle cx="161.2" cy="144.5" r="0.5"/><circle cx="160.4" cy="146.4" r="0.5"/><circle cx="176.2" cy="149.6" r="0.5"/><circle cx="163.5" cy="156.1" r="0.5"/><circle cx="171.6" cy="140.1" r="0.5"/></g></g>
<g><path d="M268,144.3 L267.9,145.3 L268.1,146.3 L269.1,147.7 L267.6,148.3 L267.2,149.3 L266.6,150.1 L266,151 L265.4,151.8 L264.5,152.3 L263.8,153 L263.1,153.7 L262.3,154.3 L261.5,155 L260.4,155 L259.9,157.1 L258.6,156 L257.5,155.6 L256.5,156.2 L255.5,155.8 L254.2,157.1 L253.4,155.8 L252.4,155.5 L251.6,154.7 L249.9,155.7 L249.7,154 L248.9,153.4 L248.3,152.5 L246.6,152.6 L245.9,151.7 L246.3,150.2 L246.1,149.1 L245.5,148.3 L245.4,147.3 L244.9,146.3 L244.8,145.3 L244.9,144.3 L245,143.3 L243.6,142 L245.1,141.2 L245.6,140.3 L245.8,139.3 L246.6,138.6 L247.1,137.7 L247.7,136.9 L248.1,135.9 L248.3,134.6 L249.7,134.5 L250.7,134.2 L251.6,133.9 L252.6,133.6 L253.5,132.9 L254.5,133.1 L255.4,131.5 L256.5,132.4 L257.5,132.8 L258.5,132.8 L259.6,132.9 L260.9,132.3 L261.9,132.7 L262.2,134.4 L264,133.6 L263.9,135.5 L264.9,135.9 L266.4,136 L266.2,137.5 L267.5,137.9 L267,139.4 L267.5,140.3 L268,141.2 L269.2,142.1 L268.1,143.3Z" fill="#f6abab" stroke="#e88a8a" stroke-width="0.8" stroke-linejoin="miter"/><circle cx="256.5" cy="144.3" r="9.1" fill="#f19d9d"/><path d="M262.2,144.3 C262.2,145.4 261.1,146.5 260.3,147.5 C259.5,148.4 258.5,149.5 257.5,149.8 C256.4,150 254.9,149.5 253.9,148.9 C252.8,148.3 251.5,147.3 251.1,146.3 C250.7,145.2 251,143.6 251.5,142.5 C252,141.4 252.9,140.3 253.9,139.8 C254.9,139.3 256.2,139.4 257.3,139.6 C258.4,139.8 259.7,140.2 260.5,141 C261.3,141.8 262.2,143.2 262.2,144.3Z" fill="#d87478"/><g fill="#e88a8a"><circle cx="260.9" cy="140.9" r="0.5"/><circle cx="260.1" cy="147.4" r="0.5"/><circle cx="256.8" cy="134.5" r="0.5"/><circle cx="265.3" cy="143.8" r="0.5"/><circle cx="250.8" cy="137.4" r="0.5"/><circle cx="248.5" cy="145.2" r="0.5"/></g></g>
<g><path d="M287,139.3 L287,140.5 L288.3,141.9 L288.1,143.2 L286.2,144 L286.1,145.2 L285.3,146.2 L284.5,147.1 L285.2,149.2 L283,148.9 L282.2,149.7 L281.3,150.6 L280.3,151.2 L279.2,151.6 L278.2,152.4 L277,152.7 L275.8,152.7 L274.6,152.7 L273.4,154.6 L272.1,154.2 L271,152.9 L269.8,152.8 L268.7,152.3 L267.5,151.9 L266.6,151 L265.7,150.3 L264.4,150 L263.5,149.2 L262.7,148.3 L262.1,147.2 L260.1,147 L259.5,145.8 L260.3,144.1 L260.3,142.8 L259.8,141.7 L257.9,140.7 L259.8,139.3 L260,138.1 L258.4,136.6 L260,135.7 L260.2,134.5 L260.9,133.4 L261.6,132.5 L262,131.3 L261.7,129.5 L263.8,129.7 L264.4,128.6 L265.4,127.9 L266.6,127.6 L267.6,126.9 L268.7,126.5 L269.9,126.2 L271.1,126 L272.2,125.8 L273.4,125.7 L274.7,124.2 L275.8,126 L277,125.9 L278.1,126.5 L279.2,126.9 L280.2,127.5 L282,127 L283.2,127.6 L284.3,128.4 L283.9,130.5 L284.5,131.5 L285.2,132.5 L285.6,133.6 L286.6,134.5 L286.7,135.7 L287,136.9 L288.9,137.9Z" fill="#f6abab" stroke="#e88a8a" stroke-width="0.8" stroke-linejoin="miter"/><circle cx="273.4" cy="139.3" r="10.7" fill="#f19d9d"/><path d="M273.4,147 C271.1,142.9 267,140.6 267.6,136 C268.2,131.4 278.6,131.4 279.2,136 C279.8,140.6 275.7,142.9 273.4,147 Z" fill="#d67a7e"/><g fill="#e88a8a"><circle cx="277.7" cy="130.4" r="0.5"/><circle cx="272.7" cy="135.3" r="0.5"/><circle cx="266.8" cy="130.7" r="0.5"/><circle cx="264.4" cy="140.4" r="0.5"/><circle cx="273.6" cy="147.8" r="0.5"/><circle cx="263.3" cy="133.5" r="0.5"/></g></g>
<g><path d="M301.6,151.1 L301.3,152.2 L301.3,153.3 L301.2,154.5 L300.7,155.5 L301.7,157.2 L300.9,158.2 L299.4,158.6 L299.6,160.2 L297.7,160.1 L296.9,160.8 L296,161.5 L295.8,163.4 L294,162.5 L293.1,163.2 L292,163.4 L291,163.9 L289.8,163.9 L288.7,164.1 L287.4,165.5 L286.5,163.9 L285,164.8 L284.3,163.1 L283.4,162.5 L282.3,162.3 L281.3,161.7 L280.6,160.7 L279.8,160 L278.9,159.3 L278.5,158.2 L276.3,158.3 L276.2,156.9 L276.8,155.4 L276.6,154.4 L276.4,153.3 L276.2,152.2 L276,151.1 L274.9,149.9 L276.2,148.9 L276.5,147.8 L276.8,146.8 L277.3,145.8 L277.6,144.7 L277,142.9 L279.2,143.1 L278.7,141.1 L280.5,141.3 L280.6,139.5 L282.5,140.3 L283.4,139.7 L284.4,139.3 L285.4,138.7 L286.5,138.9 L287.5,137.3 L288.7,138.2 L289.8,138.4 L290.9,138.6 L292.4,137.2 L293,139.2 L294,139.8 L295.1,139.9 L296.2,140.4 L296.7,141.5 L297.6,142.2 L298.7,142.7 L299.3,143.7 L299.8,144.7 L301.5,145.1 L301,146.6 L301,147.8 L301.4,148.9 L301.3,150Z" fill="#f6abab" stroke="#e88a8a" stroke-width="0.8" stroke-linejoin="miter"/><circle cx="288.7" cy="151.1" r="9.9" fill="#f19d9d"/><path d="M294,151.1 C293.9,152.4 293.9,153.9 293.2,154.8 C292.4,155.8 290.9,156.4 289.7,156.6 C288.4,156.9 286.7,157.1 285.6,156.5 C284.5,155.9 283.6,154.3 283.2,153.1 C282.8,151.9 282.9,150.4 283.3,149.1 C283.7,147.9 284.5,146.3 285.6,145.7 C286.6,145.1 288.4,145.5 289.7,145.7 C291,145.9 292.7,146.3 293.4,147.2 C294.1,148.1 294,149.8 294,151.1Z" fill="#d87478"/><g fill="#e88a8a"><circle cx="289.1" cy="156.8" r="0.5"/><circle cx="284.1" cy="154.4" r="0.5"/><circle cx="284.4" cy="154" r="0.5"/><circle cx="279.9" cy="149.6" r="0.5"/><circle cx="282.6" cy="159.6" r="0.5"/><circle cx="299.8" cy="153.4" r="0.5"/></g></g>
<g><path d="M197.2,166.4 L197.7,167.6 L197.5,168.8 L198.8,170.4 L196.8,171.2 L196.2,172.2 L195.4,173.2 L195.2,174.4 L194.3,175.3 L194.7,177.4 L192.7,177.1 L191.7,177.8 L190.6,178.4 L189.6,179.1 L188.9,180.7 L187.3,179.9 L186.1,180 L184.9,180.2 L183.7,180.5 L182.5,180.4 L181.3,180.1 L180.1,179.8 L179,179.2 L177.8,179.1 L176.8,178.3 L175,178.9 L174.7,177.1 L174,176.1 L173,175.3 L172.6,174.2 L170.3,174.1 L170.9,172.4 L170.7,171.1 L170.2,170 L170.1,168.8 L168.3,167.7 L168.4,166.4 L168.6,165.1 L169.8,164 L170.3,162.8 L170.5,161.6 L171.3,160.6 L170.6,158.8 L171.1,157.6 L173.1,157.5 L174.2,156.9 L175,156.1 L175.8,155.1 L177,154.7 L178,154.1 L178.9,153.2 L180.1,152.8 L181.3,152.6 L182.5,152.8 L183.7,152.3 L184.9,152.8 L186.1,152.6 L187.2,153.2 L189,151.7 L189.4,154.1 L191.2,153.4 L191.5,155.3 L192.6,155.8 L193.2,156.9 L194.3,157.5 L195.2,158.4 L195.8,159.4 L196.4,160.5 L198.2,161.1 L198.5,162.4 L197.3,164 L198.8,165.1Z" fill="#e39898" stroke="#d27a7a" stroke-width="0.8" stroke-linejoin="miter"/><circle cx="183.7" cy="166.4" r="10.7" fill="#dc8c8c"/><path d="M183.7,174.7 C181.2,170.4 176.9,167.9 177.5,162.9 C178.1,158 189.3,158 189.9,162.9 C190.5,167.9 186.2,170.4 183.7,174.7 Z" fill="#c26666"/><g fill="#d27a7a"><circle cx="182.2" cy="160.2" r="0.5"/><circle cx="190.3" cy="171.1" r="0.5"/><circle cx="184.6" cy="158.9" r="0.5"/><circle cx="191.2" cy="159.8" r="0.5"/><circle cx="173.7" cy="165.9" r="0.5"/><circle cx="175.2" cy="162.5" r="0.5"/></g></g>
<g><path d="M260.4,163 L261.9,164.4 L260.8,165.5 L260.2,166.7 L259.8,167.9 L259.7,169.2 L259,170.3 L257.9,171 L257.3,172.2 L256.4,173 L255.6,174 L254.5,174.5 L253.6,175.4 L252.5,176 L251.3,176.5 L250.5,178.4 L249.2,178.7 L247.7,177.6 L246.4,177.5 L245.1,177.5 L244,176.8 L242.6,177 L241.6,176.1 L240.3,176.1 L239.2,175.5 L238.3,174.6 L236.1,175.3 L235,174.4 L235.7,172 L234.6,171.3 L234.1,170.1 L232.2,169.6 L233,167.9 L232.8,166.6 L232.1,165.5 L230.4,164.4 L230.3,163 L230.4,161.6 L230.8,160.3 L232.8,159.4 L232.7,158 L233.7,157.1 L234.1,155.9 L234.5,154.6 L235.7,154 L236,152.6 L237.4,152.2 L238.3,151.4 L239.3,150.6 L240.3,150 L241.4,149.3 L242.8,149.4 L243.9,149.1 L245.1,148.5 L246.4,148.7 L247.8,147 L249.2,147 L250.1,149.2 L251.3,149.6 L252.4,150.2 L253.5,150.7 L255.3,150.3 L255.8,151.8 L256.3,153.1 L257.4,153.7 L258,154.9 L260.1,155.1 L259.3,157 L259.8,158.1 L262,158.8 L260.6,160.5 L260.9,161.7Z" fill="#e39898" stroke="#d27a7a" stroke-width="0.8" stroke-linejoin="miter"/><circle cx="246.4" cy="163" r="11.2" fill="#dc8c8c"/><path d="M246.4,171.7 C243.8,167.2 239.3,164.6 240,159.4 C240.6,154.3 252.2,154.3 252.8,159.4 C253.5,164.6 249,167.2 246.4,171.7 Z" fill="#c26666"/><g fill="#d27a7a"><circle cx="252.3" cy="160.1" r="0.5"/><circle cx="248.5" cy="153.4" r="0.5"/><circle cx="256.3" cy="161.6" r="0.5"/><circle cx="241.5" cy="165.2" r="0.5"/><circle cx="235" cy="168.5" r="0.5"/><circle cx="253.8" cy="162.6" r="0.5"/></g></g>
<g><path d="M239,169.7 L238.6,170.8 L239.7,172.1 L238.2,173 L237.9,174 L237.2,174.9 L237.1,176.1 L236.5,177 L236.9,178.8 L235.1,178.8 L234.3,179.6 L233.3,180.1 L232.4,180.7 L231.5,181.5 L230.4,181.9 L229.6,183.1 L228.2,182 L227.1,182.6 L226,182.5 L224.9,182.1 L223.6,183.4 L222.4,183.2 L221.2,182.9 L220.1,182.4 L219.7,180.6 L218.7,180.1 L216.8,180.7 L216.9,178.8 L216,178.1 L214.7,177.6 L213.9,176.7 L214.2,175.2 L214,174.1 L213.8,173 L213.6,171.9 L213.1,170.8 L213,169.7 L213.2,168.6 L213.3,167.5 L213.6,166.4 L213.9,165.3 L213.2,163.7 L213.6,162.5 L215.5,162.4 L216.1,161.4 L216.8,160.5 L217.9,160.1 L218.7,159.3 L219.7,158.7 L220.7,158.4 L221.7,157.9 L222.3,155.8 L223.6,155.9 L224.9,157.3 L226,157 L227.1,156.9 L228.2,157 L229.3,157.5 L230.4,157.7 L231.3,158.3 L232.5,158.4 L233.3,159.3 L234.3,159.8 L235.2,160.5 L235.8,161.4 L236.4,162.4 L237.1,163.3 L238.8,163.7 L238.1,165.3 L238.6,166.3 L238.4,167.5 L238.6,168.6Z" fill="#f6abab" stroke="#e88a8a" stroke-width="0.8" stroke-linejoin="miter"/><circle cx="226" cy="169.7" r="9.9" fill="#f19d9d"/><path d="M232.3,169.7 C232.2,171 231.3,172.5 230.4,173.4 C229.5,174.3 228.2,174.7 226.9,175 C225.7,175.3 223.9,175.7 222.9,175.1 C221.8,174.6 221.1,172.9 220.7,171.6 C220.3,170.4 219.9,168.7 220.3,167.6 C220.8,166.6 222.3,165.7 223.4,165.2 C224.5,164.7 225.7,164.4 226.9,164.4 C228.2,164.5 229.9,164.8 230.8,165.7 C231.7,166.6 232.3,168.4 232.3,169.7Z" fill="#d87478"/><g fill="#e88a8a"><circle cx="220.1" cy="169.1" r="0.5"/><circle cx="235" cy="167" r="0.5"/><circle cx="216.6" cy="163.8" r="0.5"/><circle cx="234.7" cy="175.3" r="0.5"/><circle cx="227.1" cy="176.1" r="0.5"/><circle cx="221.7" cy="178.7" r="0.5"/></g></g>
<g><path d="M185.9,181.6 L185.4,182.8 L187,184.3 L186.8,185.6 L185.1,186.4 L184.6,187.5 L183.9,188.5 L183.4,189.6 L182.7,190.6 L181.8,191.5 L180.7,192 L179.9,193.1 L179.6,194.9 L177.8,194.3 L176.6,194.6 L175.5,195.1 L174.3,195.1 L173.1,195.2 L171.9,195.4 L170.7,195.3 L169.5,195.1 L168,196.2 L167.1,194.8 L165.4,195.6 L164.8,193.8 L164,192.9 L163.1,192.1 L162.4,191.1 L161.5,190.3 L160.8,189.4 L160,188.5 L157.8,188.2 L157.7,186.8 L158.4,185.2 L158.5,184 L158.4,182.8 L156.3,181.6 L156.8,180.3 L157.1,179 L156.8,177.6 L159.1,177 L159.2,175.7 L158.4,173.8 L160.6,173.7 L161.1,172.5 L162,171.7 L162,169.8 L164,170.3 L165.1,169.8 L166.2,169.3 L167.2,168.8 L168.3,168.3 L169.5,167.7 L170.7,167.7 L171.9,167.6 L173.1,167.7 L174.3,167.8 L175.5,168.1 L176.5,168.9 L177.6,169.3 L178.9,169.5 L179.9,170.2 L181.8,169.7 L181.7,171.8 L182.2,172.9 L184.6,172.7 L183.7,174.8 L184.4,175.8 L184.7,177 L185.3,178 L185.4,179.2 L185.8,180.4Z" fill="#f6abab" stroke="#e88a8a" stroke-width="0.8" stroke-linejoin="miter"/><circle cx="171.9" cy="181.6" r="10.7" fill="#f19d9d"/><path d="M178.6,181.6 C178.6,182.8 177.3,184.3 176.4,185.4 C175.5,186.4 174.3,187.9 173,188.1 C171.8,188.3 170.1,187.5 168.9,186.8 C167.7,186 166.2,185 165.8,183.8 C165.4,182.6 165.8,180.8 166.2,179.5 C166.7,178.3 167.6,176.8 168.7,176.1 C169.9,175.4 171.8,175 173,175.4 C174.2,175.7 175.2,177 176.2,178 C177.1,179.1 178.6,180.4 178.6,181.6Z" fill="#d87478"/><g fill="#e88a8a"><circle cx="180.3" cy="186.7" r="0.5"/><circle cx="162.4" cy="188.7" r="0.5"/><circle cx="164.9" cy="175.4" r="0.5"/><circle cx="178.8" cy="178.8" r="0.5"/><circle cx="176.9" cy="174.6" r="0.5"/><circle cx="166.4" cy="170.7" r="0.5"/></g></g>
<g><path d="M286.8,166.4 L286.7,167.4 L286.4,168.4 L286.3,169.4 L286.2,170.4 L285.8,171.4 L285.1,172.2 L284.5,173 L283.8,173.7 L283.5,174.8 L283.4,176.3 L281.8,175.9 L280.9,176.5 L280.5,177.9 L279,177.2 L278.2,177.9 L277.3,179.1 L276.2,179.3 L275.1,178.3 L274.1,178.1 L273.1,177.7 L272.1,177.4 L270.7,178.4 L269.7,177.9 L269.4,176.3 L268.5,175.8 L267.7,175.3 L266.9,174.6 L266.2,173.9 L265.6,173 L263.9,172.9 L263.5,171.8 L263.9,170.5 L264,169.4 L263.5,168.4 L263.5,167.4 L262.1,166.4 L263.8,165.4 L263.3,164.3 L263.6,163.3 L264.4,162.5 L264.7,161.5 L264.8,160.4 L265.4,159.6 L266.1,158.9 L266.7,158 L267.7,157.6 L268.3,156.7 L269.4,156.5 L270.2,155.9 L271,155.2 L271.8,154 L273.1,154.9 L274.1,154.7 L275.1,153.5 L276.2,153.3 L277.2,154.7 L278.1,155.1 L279.1,155.5 L280.1,155.7 L281.5,155.3 L281.6,157.1 L282.7,157.3 L283.2,158.3 L283.8,159.1 L284.7,159.7 L285,160.7 L286.9,160.9 L287.4,161.9 L286.2,163.4 L286.8,164.3 L286.8,165.4Z" fill="#f6abab" stroke="#e88a8a" stroke-width="0.8" stroke-linejoin="miter"/><circle cx="275.1" cy="166.4" r="9.1" fill="#f19d9d"/><path d="M275.1,172.7 C273.1,169.3 269.7,167.4 270.2,163.4 C270.7,159.5 279.5,159.5 280,163.4 C280.5,167.4 277.1,169.3 275.1,172.7 Z" fill="#d67a7e"/><g fill="#e88a8a"><circle cx="266.7" cy="165.9" r="0.5"/><circle cx="271.8" cy="176" r="0.5"/><circle cx="273.9" cy="157.2" r="0.5"/><circle cx="265.7" cy="168.9" r="0.5"/><circle cx="274.3" cy="158.1" r="0.5"/><circle cx="281" cy="171" r="0.5"/></g></g>
<g><path d="M307.7,188.4 L307.4,189.6 L307.1,190.7 L307,191.9 L306.6,193 L306.3,194.2 L307.1,196.1 L304.9,196.2 L304.2,197.1 L303.7,198.3 L303.7,200.2 L302.4,200.7 L300.8,200.6 L299.6,200.9 L298.5,201.3 L297.4,201.9 L296.2,202.1 L295,202.1 L293.8,202.1 L292.6,202.2 L291.1,203.7 L290.2,201.8 L289.2,201.1 L287.5,202 L286.2,201.6 L286,199.6 L284.8,199.1 L282.9,199.3 L282.3,198.1 L282.6,196.3 L281.8,195.3 L279.9,194.9 L279.6,193.6 L280.4,192 L280.4,190.8 L279.7,189.6 L280.1,188.4 L280.1,187.2 L280,186 L280.6,184.9 L279.2,183.1 L281.3,182.6 L281.8,181.5 L282.7,180.6 L283.3,179.6 L284,178.6 L283.8,176.5 L285.2,176.1 L286.8,176.3 L287.9,175.6 L289.2,175.7 L290.2,175 L291.4,175 L292.6,174.9 L293.8,174.3 L295,174.8 L296.2,174.9 L297.4,175 L298.5,175.4 L300.4,174.3 L300.9,176.2 L301.7,177.1 L302.5,178.1 L303.7,178.5 L304.2,179.7 L306.3,179.7 L305.6,181.6 L306.5,182.5 L306.6,183.8 L307.3,184.8 L307.4,186 L307.6,187.2Z" fill="#f6abab" stroke="#e88a8a" stroke-width="0.8" stroke-linejoin="miter"/><circle cx="293.8" cy="188.4" r="10.7" fill="#f19d9d"/><path d="M299.4,188.4 C299.4,189.8 299.4,191.5 298.7,192.5 C297.9,193.5 296.2,194.4 294.9,194.6 C293.6,194.7 292,194 290.9,193.3 C289.9,192.6 289.1,191.5 288.5,190.3 C287.9,189.1 287.1,187.3 287.5,186.1 C287.8,184.9 289.5,183.7 290.8,183.1 C292,182.5 293.5,182.3 294.8,182.5 C296.2,182.7 297.9,183.3 298.7,184.3 C299.5,185.3 299.4,187 299.4,188.4Z" fill="#d87478"/><g fill="#e88a8a"><circle cx="298.8" cy="190.1" r="0.5"/><circle cx="289.2" cy="191.4" r="0.5"/><circle cx="297.5" cy="185.8" r="0.5"/><circle cx="286.2" cy="186.6" r="0.5"/><circle cx="297.5" cy="183.5" r="0.5"/><circle cx="289.7" cy="195.1" r="0.5"/></g></g>
<g><path d="M223.8,188.4 L223.7,189.5 L223.4,190.6 L224.6,192.1 L222.5,192.6 L222.3,193.8 L222,194.9 L221.4,195.8 L220.5,196.6 L219.7,197.3 L218.9,198.1 L218.9,199.9 L217,199.2 L216.3,200.2 L215.2,200.4 L214.1,200.7 L213,200.7 L211.9,201 L210.8,201.1 L209.7,200.8 L208.6,200.8 L207.5,200.6 L205.9,201.8 L204.7,201.4 L204.6,199.1 L203.6,198.6 L202.5,198.3 L201,198.2 L201.2,196.5 L200.3,195.7 L199.8,194.8 L199.4,193.7 L198.7,192.8 L198.4,191.7 L198.6,190.6 L198,189.5 L196.8,188.4 L198.1,187.3 L198.2,186.2 L198.4,185.1 L197.4,183.5 L199.5,183.1 L198.7,181.4 L199.4,180.4 L201.2,180.4 L201.7,179.3 L201.6,177.4 L203.6,178.1 L204.4,177.3 L205.3,176.7 L205.9,174.9 L207.5,175.9 L208.6,175.8 L209.7,175.5 L210.8,174.4 L211.9,175.7 L213,176 L214.1,176.2 L215.1,176.5 L216.2,176.9 L217,177.7 L218.1,178 L219,178.7 L220,179.2 L220.6,180.1 L221,181.2 L223,181.4 L222.5,183 L223.8,183.7 L223.3,185 L224.4,186 L223.6,187.3Z" fill="#f6abab" stroke="#e88a8a" stroke-width="0.8" stroke-linejoin="miter"/><circle cx="210.8" cy="188.4" r="9.9" fill="#f19d9d"/><path d="M210.8,195.4 C208.7,191.7 204.9,189.5 205.5,185.3 C206,181 215.6,181 216.1,185.3 C216.7,189.5 212.9,191.7 210.8,195.4 Z" fill="#d67a7e"/><g fill="#e88a8a"><circle cx="219.4" cy="186.2" r="0.5"/><circle cx="215.8" cy="198.5" r="0.5"/><circle cx="201.9" cy="193.6" r="0.5"/><circle cx="216.4" cy="189.5" r="0.5"/><circle cx="221" cy="186.3" r="0.5"/><circle cx="219" cy="189.5" r="0.5"/></g></g>
<g><path d="M249.5,198.5 L249.6,199.5 L249.2,200.5 L249.1,201.5 L249,202.5 L248.5,203.4 L247.9,204.3 L247.7,205.3 L246.8,206 L247,207.6 L245.2,207.2 L244.6,208.1 L243.7,208.6 L243.3,210.1 L242,209.7 L241.3,211.1 L239.9,210 L238.9,210.3 L237.9,210.1 L236.7,211.7 L235.6,211.4 L234.9,209.7 L233.9,209.4 L232.9,209.3 L232,208.7 L230.6,208.9 L230.3,207.6 L228.8,207.6 L228.1,206.7 L228.4,205.2 L228,204.2 L227.2,203.5 L226.9,202.5 L226.7,201.5 L226.4,200.5 L225.1,199.6 L226.1,198.5 L226.1,197.5 L225.4,196.3 L226.6,195.5 L226.8,194.5 L227.1,193.5 L227.7,192.6 L228.1,191.7 L228.9,191 L228.6,189.2 L229.5,188.5 L231.3,189.1 L232,188.3 L232.9,187.9 L233.9,187.5 L234.9,187.4 L235.8,186.8 L236.9,186.7 L237.9,186.7 L238.9,187 L239.9,187.2 L240.9,187.4 L242.3,186.4 L242.8,188 L243.8,188.3 L244.6,189 L245.6,189.3 L246,190.4 L246.8,191 L248.7,191 L249.1,192 L248.6,193.5 L249,194.4 L249.2,195.5 L249.2,196.5 L249.3,197.5Z" fill="#f6abab" stroke="#e88a8a" stroke-width="0.8" stroke-linejoin="miter"/><circle cx="237.9" cy="198.5" r="9.1" fill="#f19d9d"/><path d="M243.2,198.5 C243.2,199.7 242.9,201.2 242.1,202.1 C241.4,202.9 239.9,203.2 238.8,203.4 C237.6,203.7 236.1,203.9 235.1,203.4 C234,202.9 233,201.6 232.6,200.4 C232.2,199.3 232.1,197.6 232.5,196.5 C233,195.4 234.2,194.3 235.2,193.8 C236.3,193.3 237.6,193.3 238.8,193.5 C239.9,193.7 241.4,194.1 242.2,194.9 C242.9,195.7 243.2,197.3 243.2,198.5Z" fill="#d87478"/><g fill="#e88a8a"><circle cx="242.6" cy="195.1" r="0.5"/><circle cx="240.2" cy="192.5" r="0.5"/><circle cx="237.4" cy="191.8" r="0.5"/><circle cx="231.3" cy="193.2" r="0.5"/><circle cx="246.9" cy="198.7" r="0.5"/><circle cx="242.3" cy="205" r="0.5"/></g></g>
<g><path d="M276.2,198.5 L276.2,199.5 L275.8,200.4 L277.2,201.8 L276.8,202.8 L275.3,203.3 L275.6,204.6 L273.9,204.7 L274.6,206.5 L272.7,206.2 L272.8,207.8 L272.1,208.7 L270.5,208 L270.3,209.9 L268.8,208.8 L267.9,209.2 L266.9,209.4 L266,209.6 L265,209.4 L264,209.5 L263.1,209.5 L261.8,210.4 L261.1,209.1 L260.3,208.7 L259.4,208.2 L258.5,207.8 L258,206.8 L257,206.5 L256.4,205.7 L255.9,204.9 L255.3,204.1 L254.8,203.3 L254.5,202.3 L254.1,201.4 L252.8,200.6 L254,199.5 L253.9,198.5 L253.7,197.5 L254,196.6 L254.1,195.6 L254.8,194.8 L254.9,193.8 L254.4,192.4 L256,192.2 L256.5,191.3 L257,190.5 L257.8,189.9 L258.7,189.4 L258.7,187.7 L260.4,188.7 L261.2,188 L262.1,187.6 L262.9,186.4 L264,187.2 L265,185.9 L266,187.5 L266.9,187.5 L267.9,187.6 L268.7,188.3 L269.7,188.5 L270.6,188.9 L271.5,189.3 L273,188.9 L272.9,190.6 L273.7,191.2 L274,192.2 L274.7,192.9 L275,193.8 L275.4,194.7 L275.5,195.7 L277.1,196.4 L275.8,197.6Z" fill="#f6abab" stroke="#e88a8a" stroke-width="0.8" stroke-linejoin="miter"/><circle cx="265" cy="198.5" r="8.7" fill="#f19d9d"/><path d="M265,204.5 C263.1,201.2 259.9,199.4 260.3,195.6 C260.8,191.9 269.2,191.9 269.7,195.6 C270.1,199.4 266.9,201.2 265,204.5 Z" fill="#d67a7e"/><g fill="#e88a8a"><circle cx="257.9" cy="195" r="0.5"/><circle cx="257" cy="200.7" r="0.5"/><circle cx="257.9" cy="199.8" r="0.5"/><circle cx="267.6" cy="202.4" r="0.5"/><circle cx="262" cy="195.5" r="0.5"/><circle cx="261.6" cy="191.7" r="0.5"/></g></g>
<path d="M190.5,133 Q196.2,137.4 199.8,141.8" stroke="#f1a0a0" stroke-width="3" fill="none" stroke-linecap="round"/>
<circle cx="199.8" cy="141.8" r="3.6" fill="#f3a4a4" stroke="#e48585" stroke-width="0.6"/>
<path d="M210.8,197 Q207.9,205.4 203,213.8" stroke="#f1a0a0" stroke-width="3" fill="none" stroke-linecap="round"/>
<circle cx="203" cy="213.8" r="3.6" fill="#f3a4a4" stroke="#e48585" stroke-width="0.6"/>
<path d="M246.4,172 Q243.2,181 238,190" stroke="#f1a0a0" stroke-width="3" fill="none" stroke-linecap="round"/>
<circle cx="238" cy="190" r="3.6" fill="#f3a4a4" stroke="#e48585" stroke-width="0.6"/>
<path d="M265,205 Q267.8,212.3 268.6,219.6" stroke="#f1a0a0" stroke-width="3" fill="none" stroke-linecap="round"/>
<circle cx="268.6" cy="219.6" r="3.6" fill="#f3a4a4" stroke="#e48585" stroke-width="0.6"/>
<path d="M275.1,173 Q280.1,179.5 283,186" stroke="#f1a0a0" stroke-width="3" fill="none" stroke-linecap="round"/>
<circle cx="283" cy="186" r="3.6" fill="#f3a4a4" stroke="#e48585" stroke-width="0.6"/>
<g opacity="0.55">
<g fill="none" stroke-linecap="butt"><path d="M180,226 C184,210 192,182 208,160 C222,143 240,130 262,124 C275,121 288,122 302,122" stroke="#c84848" stroke-width="14"/><path d="M236,130 C239,117 241,104 241,89" stroke="#c84848" stroke-width="8"/><path d="M201,163 C193,148 184,130 180,100" stroke="#c84848" stroke-width="10"/><path d="M180,226 C184,210 192,182 208,160 C222,143 240,130 262,124 C275,121 288,122 302,122" stroke="#eeb0b0" stroke-width="9"/><path d="M236,130 C239,117 241,104 241,89" stroke="#eeb0b0" stroke-width="4"/><path d="M201,163 C193,148 184,130 180,100" stroke="#eeb0b0" stroke-width="5.5"/><path d="M180,226 C184,210 192,182 208,160 C222,143 240,130 262,124 C275,121 288,122 302,122" stroke="#f3c6c6" stroke-width="3"/></g>
<path d="M158,226 C168,216 176,204 182,190 L196,196 C194,206 195,216 201,226 Z" fill="#eeb0b0"/>
<path d="M158,225 C168,216 176,204 182,190" fill="none" stroke="#c84848" stroke-width="2.6"/>
<path d="M201,226 C195,216 194,206 198,195" fill="none" stroke="#c84848" stroke-width="2.6"/>
</g>
<rect x="34" y="224.5" width="304.5" height="22.2" fill="#efb3b3"/><rect x="34" y="224.5" width="304.5" height="3.6" fill="#c64545"/><rect x="34" y="228.1" width="304.5" height="2.2" fill="#dc6c6c"/><rect x="34" y="243.5" width="304.5" height="3.2" fill="#c64545"/>
<g opacity="0.9"><path d="M179.9,228.7 L179.7,229.3 L179.7,229.8 L179.7,230.4 L179.3,230.9 L179.3,231.5 L179.6,232.4 L178.7,232.5 L178.2,232.8 L178,233.4 L177.5,233.7 L177.1,234.1 L176.6,234.4 L176,234.4 L175.6,234.9 L175.2,235.8 L174.5,235.7 L173.9,235.3 L173.3,235.1 L172.7,235.3 L172.2,235.1 L171.7,234.8 L171,234.9 L170.6,234.5 L170.1,234.2 L169.6,233.9 L169.2,233.6 L168.7,233.3 L167.8,233.3 L167.9,232.5 L167.1,232.3 L166.9,231.7 L166.7,231.1 L167,230.4 L167,229.8 L166,229.3 L166.7,228.7 L166.8,228.1 L166.9,227.6 L167.1,227 L166.4,226.2 L167.5,226 L167.8,225.5 L168,225 L168.2,224.4 L168.1,223.5 L169.1,223.8 L169.6,223.4 L170.1,223.1 L170.6,222.9 L171.1,222.6 L171.5,221.8 L172.1,221.7 L172.7,222.1 L173.3,222.1 L173.9,222.2 L174.4,222.4 L175,222.3 L175.8,221.9 L176.1,222.8 L176.5,223.1 L177.1,223.3 L177.4,223.8 L178.3,223.7 L178.2,224.6 L178.6,225 L178.8,225.5 L179.1,226 L179.5,226.5 L180.2,226.9 L179.8,227.6 L179.8,228.1Z" fill="#f3a3a3" stroke="#e48585" stroke-width="0.8" stroke-linejoin="miter"/><path d="M176.1,228.7 C176.1,229.4 176.2,230.3 175.8,230.8 C175.4,231.3 174.5,231.5 173.8,231.6 C173.1,231.7 172.2,231.8 171.7,231.5 C171.2,231.1 170.8,230.3 170.6,229.7 C170.4,229.1 170.3,228.3 170.5,227.7 C170.7,227.1 171.1,226.3 171.7,225.9 C172.2,225.6 173.2,225.4 173.9,225.5 C174.5,225.6 175.4,226.1 175.8,226.6 C176.2,227.2 176.1,228 176.1,228.7Z" fill="#d87c80"/></g>
<circle cx="181" cy="238" r="3" fill="#f3a3a3" stroke="#e48585" stroke-width="0.6"/>
<g opacity="0.9"><path d="M262.4,236 L262.5,236.6 L262.3,237.1 L262.2,237.7 L262.7,238.4 L262,238.8 L261.7,239.3 L261.3,239.7 L261.1,240.3 L260.7,240.7 L260.2,240.9 L259.8,241.4 L259.2,241.6 L258.8,242 L258.3,242.2 L257.7,242.2 L257.1,242.5 L256.6,242.5 L256,242.4 L255.4,242.6 L254.9,242.3 L254.2,242.9 L253.8,242 L253.3,241.8 L252.3,242.4 L251.9,241.9 L251.7,241.1 L251.5,240.5 L251.1,240.1 L250.8,239.6 L250.4,239.2 L250,238.8 L249.2,238.5 L249.7,237.7 L249.7,237.1 L249.7,236.6 L249.6,236 L249.4,235.4 L249.5,234.9 L249.6,234.3 L249.8,233.7 L249.5,233 L250.5,232.8 L250.6,232.3 L251.1,231.9 L251.4,231.4 L251.8,231 L252.3,230.7 L252.3,229.6 L253,229.6 L253.5,229.1 L254.4,229.9 L254.7,228.7 L255.4,229.6 L256,229.6 L256.6,229.5 L257.1,229.5 L257.7,229.8 L258.2,229.9 L258.8,230.1 L259.6,229.8 L260.1,230.1 L260.2,231 L261.1,230.9 L261.1,231.8 L261.3,232.3 L261.7,232.7 L261.9,233.2 L262.7,233.6 L262.2,234.3 L262.4,234.9 L263.2,235.4Z" fill="#f3a3a3" stroke="#e48585" stroke-width="0.8" stroke-linejoin="miter"/><path d="M258.7,236 C258.7,236.6 258.4,237.3 258.1,237.7 C257.7,238.2 257.1,238.6 256.5,238.8 C255.9,239 254.9,239.1 254.4,238.8 C253.9,238.5 253.6,237.6 253.3,237 C253.1,236.3 252.9,235.5 253.1,234.9 C253.2,234.3 253.8,233.6 254.4,233.3 C255,233 255.9,232.9 256.5,233 C257.1,233.2 257.8,233.7 258.2,234.2 C258.5,234.7 258.8,235.4 258.7,236Z" fill="#d87c80"/></g>
<circle cx="266" cy="238" r="3" fill="#f3a3a3" stroke="#e48585" stroke-width="0.6"/>
<use href="#peri" transform="translate(39,201.2) scale(0.5)" style="--f:#fbc48c;--o:#c8873f;--n:#eda26a;--bw:4.4;--fw:1.4"/>
<g transform="translate(106,203) rotate(-9)"><use href="#peri" transform="translate(0,0) scale(0.48)" style="--f:#9bd4cb;--o:#3c8a80;--n:#6cb6aa;--bw:4.4;--fw:1.4"/></g>
<use href="#peri" transform="translate(196,200) scale(0.53)" style="--f:#9bd4cb;--o:#3c8a80;--n:#6cb6aa;--bw:4.4;--fw:1.4"/>
<use href="#peri" transform="translate(275.7,200.6) scale(0.46)" style="--f:#fbc48c;--o:#c8873f;--n:#eda26a;--bw:4.4;--fw:1.4"/>
<path d="M73.3,187.4 L73.3,209" stroke="#8c5a48" stroke-width="1.3"/><circle cx="73.3" cy="209.6" r="2.8" fill="#8c5a48"/>
<rect x="197.5" y="181.5" width="79.2" height="55" fill="none" stroke="#1c1c1c" stroke-width="2" stroke-dasharray="6 5"/>
<path d="M235.7,236.5 L235.7,274" stroke="#222" stroke-width="1.5"/><circle cx="235.7" cy="236.5" r="3.2" fill="#222"/>
<rect x="16" y="322.5" width="409.5" height="505" fill="url(#lpbg)"/>
<g clip-path="url(#lpclip)">
<g><path d="M349.7,337.9 L349.4,340.5 L348.1,342.9 L348.9,345.7 L348.1,348.2 L349.6,351.8 L348.2,354.4 L343.5,354.5 L341.8,356.4 L342.9,361.1 L338.2,360 L336.4,361.7 L334.3,363.1 L331.9,364 L329.8,365.6 L327.3,366.3 L324.9,367.4 L322.3,367.3 L319.7,367.6 L316.8,370.5 L314.5,367.2 L312.1,366.3 L309.7,365.3 L305.6,368.2 L303,366.9 L302.5,362.5 L300.5,360.7 L299,358.6 L294.9,358.7 L295.8,354.6 L294.7,352.3 L292.6,350.5 L292.1,347.9 L290.7,345.7 L287.6,343.6 L289.6,340.5 L289.7,337.9 L291,335.4 L291.1,332.9 L290.6,330.1 L292,327.8 L292.3,325.1 L294.3,323.2 L296.1,321.3 L297,318.8 L298.5,316.7 L301,315.6 L303.1,314.2 L305.1,312.6 L306.9,310.5 L309.5,309.8 L312.2,309.9 L314.6,309.2 L317.2,309.1 L319.7,309 L322.3,308.1 L324.7,309.3 L328.2,306.2 L329.8,310.3 L333.3,308.6 L336.2,309.2 L336.3,314.2 L338.8,315.1 L340.2,317.4 L342.2,319 L346.2,319.4 L347.8,321.7 L347.1,325.1 L350.9,326.5 L347.9,330.3 L349.3,332.7 L351.9,335.1Z" fill="#f9baba" stroke="#e79c9c" stroke-width="0.8" stroke-linejoin="miter"/><path d="M330.9,334.9 C331.1,337.5 330.7,341 329.2,342.9 C327.7,344.8 324.2,346 321.7,346.3 C319.2,346.6 316.3,345.9 314.1,344.7 C311.9,343.4 309.4,341.3 308.4,339 C307.5,336.7 307.6,333.2 308.4,330.8 C309.3,328.4 311.5,325.8 313.7,324.5 C315.9,323.3 319.3,322.7 321.8,323.2 C324.2,323.7 326.9,325.6 328.5,327.5 C330,329.5 330.8,332.3 330.9,334.9Z" fill="#d98a8a"/><g fill="#e79c9c"><circle cx="337.5" cy="352" r="0.5"/><circle cx="304.8" cy="316.8" r="0.5"/><circle cx="317.7" cy="353" r="0.5"/><circle cx="317.5" cy="315.9" r="0.5"/><circle cx="312.4" cy="359.1" r="0.5"/><circle cx="300.8" cy="352.3" r="0.5"/><circle cx="330.4" cy="347.8" r="0.5"/><circle cx="333.7" cy="327.9" r="0.5"/><circle cx="318.1" cy="361.9" r="0.5"/><circle cx="311" cy="328.4" r="0.5"/><circle cx="298.7" cy="330.9" r="0.5"/><circle cx="330.9" cy="356.8" r="0.5"/><circle cx="331.8" cy="349.7" r="0.5"/><circle cx="332" cy="345" r="0.5"/><circle cx="337.6" cy="335.4" r="0.5"/><circle cx="338.3" cy="336.8" r="0.5"/><circle cx="300.2" cy="322.3" r="0.5"/><circle cx="315.1" cy="326.9" r="0.5"/><circle cx="301.3" cy="326.4" r="0.5"/><circle cx="324.5" cy="348.3" r="0.5"/><circle cx="333.8" cy="323.8" r="0.5"/><circle cx="326.2" cy="355.6" r="0.5"/><circle cx="324.5" cy="361.4" r="0.5"/><circle cx="308.1" cy="337.9" r="0.5"/></g></g>
<g><path d="M427.2,347.4 L430.6,350.6 L426.8,353.2 L425.3,355.8 L424.9,358.7 L423.4,361.1 L423.2,364.2 L420.4,365.9 L419.7,369 L416.8,370.2 L415.4,372.9 L412.8,374.2 L410.4,375.8 L408.2,377.8 L405,377.7 L402.4,378.6 L399.8,380.6 L397.2,383.9 L394,383.4 L391.1,381.1 L388.1,380.6 L385.6,378.7 L382.8,378.3 L380.3,376.8 L377.7,375.7 L375,374.6 L373.1,372.3 L370.4,371 L369.3,368.1 L364.4,368.1 L365,364.2 L364.2,361.3 L363.1,358.6 L362,356 L358,353.8 L361.3,350.3 L361.8,347.4 L360.8,344.5 L360.7,341.5 L361.4,338.7 L362.7,336 L361,332 L365.6,331 L366.7,328.3 L365.7,323.7 L371.1,324.5 L373.1,322.5 L373.1,317.6 L375.7,315.7 L379.8,317 L382.7,316.4 L384.7,312.8 L388.2,314.4 L391.1,314.6 L394,314.4 L397.2,311.4 L399.7,315 L402.5,315.7 L405.4,316 L407.7,318.1 L412.4,315.6 L414.7,317.8 L415.4,321.9 L416.8,324.6 L419,326.4 L420.8,328.6 L422.8,330.8 L426.5,332.2 L428.4,334.9 L425.4,339 L426.1,341.7 L426.8,344.5Z" fill="#ee9090" stroke="#d96f6f" stroke-width="0.8" stroke-linejoin="miter"/><path d="M408.6,341.4 C408.8,344.8 407.3,349.6 405,352.3 C402.7,354.9 398.3,356.7 394.8,357.2 C391.3,357.7 386.9,357 384,355.3 C381.1,353.5 378.7,350.1 377.3,346.8 C375.9,343.4 374.3,338.5 375.5,335.4 C376.6,332.3 381.2,329.6 384.3,328.1 C387.5,326.7 391.4,326.2 394.6,326.8 C397.8,327.3 401.3,329.2 403.7,331.6 C406,334 408.4,338 408.6,341.4Z" fill="#d96a6a"/><g fill="#d96f6f"><circle cx="403.6" cy="345.3" r="0.5"/><circle cx="392.7" cy="332.8" r="0.5"/><circle cx="404" cy="346.5" r="0.5"/><circle cx="412.2" cy="330.2" r="0.5"/><circle cx="412.5" cy="324.2" r="0.5"/><circle cx="395.2" cy="366.2" r="0.5"/><circle cx="389.4" cy="330.4" r="0.5"/><circle cx="392.6" cy="363.8" r="0.5"/><circle cx="411.5" cy="325.6" r="0.5"/><circle cx="398.8" cy="331.8" r="0.5"/><circle cx="413.8" cy="337.3" r="0.5"/><circle cx="396.5" cy="368.5" r="0.5"/><circle cx="383.2" cy="353.3" r="0.5"/><circle cx="376.2" cy="339.8" r="0.5"/><circle cx="368" cy="335.2" r="0.5"/><circle cx="381.6" cy="331.4" r="0.5"/><circle cx="413.4" cy="325" r="0.5"/><circle cx="365.1" cy="349.2" r="0.5"/><circle cx="408" cy="349.1" r="0.5"/><circle cx="407.6" cy="372.9" r="0.5"/><circle cx="384.6" cy="323.5" r="0.5"/><circle cx="389" cy="368.8" r="0.5"/><circle cx="403.8" cy="339" r="0.5"/><circle cx="402.4" cy="354.9" r="0.5"/><circle cx="367" cy="352.8" r="0.5"/><circle cx="375" cy="340.6" r="0.5"/><circle cx="378.8" cy="347.2" r="0.5"/><circle cx="412.2" cy="341.2" r="0.5"/></g></g>
<g><path d="M360.9,380.7 L364.5,383.5 L360.7,385.7 L359.4,387.9 L359,390.4 L357.9,392.6 L357.6,395.3 L356.2,397.4 L354.6,399.4 L355.2,403.5 L351,402.9 L349.2,404.7 L346.9,405.8 L345.7,409.2 L342.4,408 L339.8,408.3 L338,412.3 L334.9,409.3 L332.4,412.3 L329.9,409 L327.5,408.8 L325.1,408.1 L322.8,407.1 L318.8,409.9 L317.9,405.8 L315.6,404.7 L313.8,402.8 L312.1,401 L307.8,401.3 L306.8,398.6 L307.4,395.1 L306.6,392.8 L306,390.3 L302.1,388.8 L301.1,386.2 L304.3,383.2 L303.9,380.7 L300.6,377.9 L304.4,375.8 L305.3,373.4 L305.5,370.9 L306.8,368.8 L308,366.6 L309.3,364.5 L310.6,362.4 L312.6,360.9 L313.9,358.6 L313.8,354.2 L318.2,356.1 L320.2,354.5 L322.4,353.2 L325.2,353.7 L327.5,353 L329.9,351.8 L332.4,348.5 L334.9,352 L337.3,353 L339.8,353.2 L342.4,353.3 L344.7,354.3 L346.9,355.6 L348.6,357.6 L351.1,358.4 L352.5,360.6 L354.5,362.1 L355.4,364.6 L357.8,366.1 L361.3,367.2 L359.6,370.8 L362.7,372.6 L360.7,375.7 L361,378.2Z" fill="#ef9494" stroke="#d86f6f" stroke-width="0.8" stroke-linejoin="miter"/><path d="M349.9,376.7 C350,379.4 348.2,382.9 346.3,385 C344.5,387.2 341.5,389.1 338.7,389.7 C335.9,390.2 331.9,389.9 329.6,388.4 C327.4,386.9 326.1,383.5 325.2,380.8 C324.3,378.1 323.6,374.9 324.3,372.3 C325.1,369.7 327.2,366.5 329.6,365 C332,363.5 336,362.9 338.7,363.5 C341.5,364.1 344.3,366.3 346.1,368.5 C348,370.8 349.9,374 349.9,376.7Z" fill="#dd6f6f"/><g fill="#d86f6f"><circle cx="320.3" cy="395.1" r="0.5"/><circle cx="316.6" cy="389.8" r="0.5"/><circle cx="314.4" cy="392.2" r="0.5"/><circle cx="331.2" cy="401.8" r="0.5"/><circle cx="348.1" cy="381.7" r="0.5"/><circle cx="326.1" cy="391.3" r="0.5"/><circle cx="331.7" cy="364.9" r="0.5"/><circle cx="338.6" cy="356.2" r="0.5"/><circle cx="331.9" cy="405.2" r="0.5"/><circle cx="340" cy="360.6" r="0.5"/><circle cx="350.5" cy="383.8" r="0.5"/><circle cx="321.5" cy="369.6" r="0.5"/><circle cx="334.9" cy="396.3" r="0.5"/><circle cx="331.2" cy="403.8" r="0.5"/><circle cx="322.1" cy="395.3" r="0.5"/><circle cx="316.7" cy="361" r="0.5"/><circle cx="329.8" cy="390" r="0.5"/><circle cx="355.8" cy="376.8" r="0.5"/><circle cx="337.3" cy="361.9" r="0.5"/><circle cx="333.6" cy="393.2" r="0.5"/><circle cx="326.2" cy="398.1" r="0.5"/><circle cx="352.5" cy="389.5" r="0.5"/><circle cx="331.2" cy="372.2" r="0.5"/><circle cx="342.8" cy="364.9" r="0.5"/></g></g>
<g><path d="M394,398.2 L393.1,400.2 L393.6,402.3 L392.5,404.1 L392.4,406.2 L391.2,407.9 L390.6,409.8 L389.4,411.4 L387.8,412.7 L388.7,416.4 L385.1,415.6 L383.4,416.6 L381.8,417.7 L381.3,421.4 L378.2,419.3 L376.4,420.2 L374.6,421.3 L372.5,421 L370.5,421.3 L368.5,421.6 L366.4,421.3 L364.7,420 L362.6,420 L360.6,419.4 L359,418.2 L355.8,419.2 L355.8,415.7 L353.9,414.8 L352.7,413.2 L349.6,412.8 L350.4,409.8 L347.6,408.9 L346.4,407 L348.3,404.1 L345.6,402.6 L347.9,400.2 L347.9,398.2 L344.5,395.9 L345.6,393.8 L348.7,392.4 L349.3,390.5 L349.7,388.5 L350.4,386.6 L349.5,383.5 L352.9,383.5 L353.9,381.6 L356,380.9 L357.4,379.5 L359.1,378.5 L359.7,375.1 L362.7,376.7 L364.4,375.6 L366.6,375.8 L368.5,375.4 L370.5,375.3 L372.7,372.6 L374.5,375.6 L377.1,373.5 L378.4,376.6 L381.2,375.3 L382,378.3 L383.9,379.1 L385.2,380.7 L387.2,381.5 L387.7,383.8 L389.5,384.9 L390.3,386.8 L393.6,387.4 L392,390.4 L392.7,392.2 L392.6,394.3 L393.5,396.2Z" fill="#f9b9b9" stroke="#e79c9c" stroke-width="0.8" stroke-linejoin="miter"/><path d="M383.3,397.2 C383.3,399.5 383.2,402.4 381.8,404.2 C380.5,406 377.6,407.5 375.4,407.8 C373.1,408.2 370.1,407.5 368.3,406.3 C366.4,405 365.1,402.7 364.2,400.6 C363.3,398.4 362.4,395.6 363.1,393.4 C363.7,391.2 365.9,388.6 367.9,387.5 C370,386.5 373.1,386.4 375.3,386.8 C377.6,387.3 380.2,388.7 381.6,390.4 C382.9,392.2 383.2,394.9 383.3,397.2Z" fill="#d98f8f"/><g fill="#e79c9c"><circle cx="351.9" cy="395.6" r="0.5"/><circle cx="382.6" cy="395.1" r="0.5"/><circle cx="372.3" cy="380.6" r="0.5"/><circle cx="365.6" cy="390.4" r="0.5"/><circle cx="384.1" cy="400.5" r="0.5"/><circle cx="370.2" cy="386.4" r="0.5"/><circle cx="357.6" cy="398.1" r="0.5"/><circle cx="382" cy="381.6" r="0.5"/><circle cx="353.6" cy="410.2" r="0.5"/><circle cx="388" cy="405.4" r="0.5"/><circle cx="377.6" cy="391.1" r="0.5"/><circle cx="366.1" cy="382.7" r="0.5"/><circle cx="381.2" cy="395.1" r="0.5"/><circle cx="351.5" cy="393.3" r="0.5"/><circle cx="362.3" cy="388.5" r="0.5"/><circle cx="388" cy="408.1" r="0.5"/><circle cx="350.1" cy="401.5" r="0.5"/><circle cx="382.4" cy="412.9" r="0.5"/></g></g>
</g>
<g fill="#1c4f8a" stroke="#1c4f8a"><text x="26.6" y="353.5" font-size="22.5" textLength="154.9" lengthAdjust="spacingAndGlyphs">Vessel dilation</text><text x="28.5" y="382.7" font-size="22.5" textLength="136.7" lengthAdjust="spacingAndGlyphs">Flow velocity</text><text x="27.8" y="414.6" font-size="22.5" textLength="110.6" lengthAdjust="spacingAndGlyphs">Blood flow</text><text x="26.6" y="444.9" font-size="22.5" textLength="182.8" lengthAdjust="spacingAndGlyphs">Vascular leakage</text></g>
<linearGradient id="ag1" x1="0" y1="334.3" x2="0" y2="371" gradientUnits="userSpaceOnUse"><stop offset="0.5" stop-color="#1a1a1a"/><stop offset="1" stop-color="#1a1a1a" stop-opacity="0.1"/></linearGradient><rect x="203.1" y="340.3" width="1.8" height="30.7" fill="url(#ag1)"/><path d="M199.4,343.8 L204,334.3 L208.6,343.8 Z" fill="#1a1a1a"/>
<linearGradient id="ag2" x1="0" y1="363.3" x2="0" y2="400" gradientUnits="userSpaceOnUse"><stop offset="0.5" stop-color="#1a1a1a"/><stop offset="1" stop-color="#1a1a1a" stop-opacity="0.1"/></linearGradient><rect x="181.1" y="369.3" width="1.8" height="30.7" fill="url(#ag2)"/><path d="M177.4,372.8 L182,363.3 L186.6,372.8 Z" fill="#1a1a1a"/>
<linearGradient id="ag3" x1="0" y1="400.5" x2="0" y2="424.5" gradientUnits="userSpaceOnUse"><stop offset="0.5" stop-color="#1a1a1a"/><stop offset="1" stop-color="#1a1a1a" stop-opacity="0.1"/></linearGradient><rect x="154.3" y="406.5" width="1.8" height="18" fill="url(#ag3)"/><path d="M150.6,410 L155.2,400.5 L159.8,410 Z" fill="#1a1a1a"/>
<linearGradient id="ag4" x1="0" y1="418" x2="0" y2="454.5" gradientUnits="userSpaceOnUse"><stop offset="0.5" stop-color="#1a1a1a"/><stop offset="1" stop-color="#1a1a1a" stop-opacity="0.1"/></linearGradient><rect x="217.4" y="424" width="1.8" height="30.5" fill="url(#ag4)"/><path d="M213.7,427.5 L218.3,418 L222.9,427.5 Z" fill="#1a1a1a"/>
<g clip-path="url(#lpclip)">
<path d="M17,568.5 C22.5,564 39.6,568.7 50,569 C60.4,569.3 74.2,569 79.3,570.2 C84.4,571.4 81.9,573.6 80.5,576 C79.1,578.4 76.4,581.5 70.8,584.6 C65.2,587.7 56,592.8 47,594.7 C38,596.6 22,600.4 17,596 C12,591.6 11.5,573 17,568.5Z" fill="#eeb1b1" stroke="#d7787c" stroke-width="1"/><ellipse cx="34.4" cy="587" rx="11" ry="6" transform="rotate(0 34.4 587)" fill="#e08d90" stroke="#d37a7e" stroke-width="0.6"/>
<path d="M91,572.7 C88.7,574.8 89.6,579.1 91,581.2 C92.4,583.3 93.9,584.5 99.6,585.4 C105.3,586.2 117.9,587.3 125,586.3 C132.1,585.3 135.2,583.2 142,579.5 C148.8,575.8 161.2,568.2 165.6,564.3 C170,560.3 168.2,557.9 168.2,555.8 C168.2,553.7 170.5,551.2 165.6,551.6 C160.7,552 148.7,555.5 138.5,558.3 C128.3,561.1 112.6,566.1 104.7,568.5 C96.8,570.9 93.3,570.6 91,572.7Z" fill="#eeb1b1" stroke="#d7787c" stroke-width="1"/><ellipse cx="131.8" cy="577" rx="8.5" ry="5.5" transform="rotate(-15 131.8 577)" fill="#e08d90" stroke="#d37a7e" stroke-width="0.6"/>
<path d="M182.9,555.7 C183.4,553.6 182.9,551.7 188.6,550 C194.3,548.3 206.1,543.1 217,545.7 C227.9,548.3 247.4,560.7 254.3,565.7 C261.2,570.7 258.6,573.6 258.6,575.7 C258.6,577.9 261.2,579.8 254.3,578.6 C247.4,577.4 228.4,571.2 217,568.6 C205.6,566 191.4,565 185.7,562.9 C180,560.8 182.4,557.9 182.9,555.7Z" fill="#eeb1b1" stroke="#d7787c" stroke-width="1"/><ellipse cx="224.3" cy="555.7" rx="9" ry="6" transform="rotate(15 224.3 555.7)" fill="#e08d90" stroke="#d37a7e" stroke-width="0.6"/>
<path d="M262.1,559.3 C262.5,557.6 258.9,556.8 265.2,558.3 C271.5,559.8 288.3,564.5 300,568 C311.7,571.5 329.2,576 335.5,579.4 C341.8,582.8 338.5,586.1 337.5,588.5 C336.5,590.9 335.5,592.2 329.5,593.5 C323.5,594.8 308.3,596.7 301.3,596.5 C294.3,596.3 291.7,595.2 287.3,592.5 C282.9,589.8 279.2,584.4 275.2,580.4 C271.2,576.4 265.3,571.9 263.1,568.4 C260.9,564.9 261.8,561 262.1,559.3Z" fill="#eeb1b1" stroke="#d7787c" stroke-width="1"/><ellipse cx="297.3" cy="585.4" rx="8.5" ry="6" transform="rotate(10 297.3 585.4)" fill="#e08d90" stroke="#d37a7e" stroke-width="0.6"/>
<path d="M339.5,588.5 C338.5,590.2 340.2,592.5 341.6,594.5 C343,596.5 342.6,598.8 347.6,600.5 C352.6,602.2 365,605.2 371.7,604.5 C378.4,603.8 381.1,600.5 387.8,596.5 C394.5,592.5 407.5,585.1 411.9,580.4 C416.2,575.7 414.2,571.1 413.9,568.4 C413.6,565.7 416.3,563 409.9,564.3 C403.5,565.6 386.1,573 375.7,576.4 C365.3,579.8 353.6,582.4 347.6,584.4 C341.6,586.4 340.5,586.8 339.5,588.5Z" fill="#eeb1b1" stroke="#d7787c" stroke-width="1"/><ellipse cx="379.8" cy="593.5" rx="9" ry="6" transform="rotate(-15 379.8 593.5)" fill="#e08d90" stroke="#d37a7e" stroke-width="0.6"/>
</g>
<g><path d="M28.5,558.3 C29.6,557.6 31.8,555.5 35.2,554.1 C38.6,552.7 44.6,551.6 48.8,549.9 C53,548.2 56.9,546.9 60.6,543.9 C64.3,540.9 67.1,535.8 70.8,532.1 C74.5,528.4 78.1,524.3 82.6,521.9 C87.1,519.5 93.1,517.8 97.9,517.7 C102.7,517.6 106.9,519 111.4,521.1 C115.9,523.2 120.5,527.7 125,530.4 C129.5,533.1 133.4,535.7 138.5,537.2 C143.6,538.8 151.3,539 155.5,539.7 C159.7,540.4 161.9,540.3 163.9,541.4 C165.9,542.5 166.7,545.6 167.3,546.5 L160,548.5 L152,549 L130,551 L110,553 L90,556 L60,558 L30,560Z" fill="#9bd4cb" stroke="#3f8f84" stroke-width="2.2" stroke-linejoin="round"/><path d="M83.6,552.3 L83.4,554.7 L83.4,557 L83.4,559.3 L83.5,561.7 L83.7,564 L84,566.3 L84.3,568.6 L84.8,570.9 L85.3,573.2 L85.8,575.5 L86.5,577.8 L87.2,580 A2.2,2.2 0 0 0 91.6,579 L91.6,579 L91.3,576.7 L91,574.5 L90.8,572.4 L90.7,570.2 L90.7,568.1 L90.7,565.9 L90.8,563.9 L91,561.8 L91.3,559.7 L91.6,557.7 L92,555.7 L92.4,553.7Z" fill="#9bd4cb" stroke="#3f8f84" stroke-width="2.2" stroke-linejoin="round"/><path d="M105,551 L105.2,552 L105.4,553 L105.5,554 L105.7,555 L105.9,556 L106,557.1 L106.1,558.2 L106.3,559.3 L106.4,560.4 L106.5,561.5 L106.6,562.6 L106.8,563.8 A2.8,2.8 0 0 0 112.2,564.2 L112.2,564.2 L112.5,563 L112.8,561.9 L113,560.7 L113.3,559.6 L113.5,558.5 L113.7,557.4 L114,556.3 L114.2,555.2 L114.4,554.2 L114.6,553.1 L114.8,552 L115,551Z" fill="#9bd4cb" stroke="#3f8f84" stroke-width="2.2" stroke-linejoin="round"/><path d="M126,549 L126.2,549.8 L126.4,550.6 L126.5,551.4 L126.7,552.2 L126.9,553 L127,553.8 L127.1,554.6 L127.3,555.4 L127.4,556.3 L127.5,557.1 L127.7,557.9 L127.8,558.7 A2.8,2.8 0 0 0 133.2,559.3 L133.2,559.3 L133.5,558.4 L133.8,557.6 L134,556.7 L134.3,555.9 L134.5,555 L134.7,554.2 L135,553.3 L135.2,552.5 L135.4,551.6 L135.6,550.7 L135.8,549.9 L136,549Z" fill="#9bd4cb" stroke="#3f8f84" stroke-width="2.2" stroke-linejoin="round"/><path d="M149,547 L149.1,547.5 L149.3,548 L149.4,548.5 L149.6,548.9 L149.7,549.4 L149.9,549.9 L150,550.3 L150.2,550.8 L150.3,551.2 L150.5,551.7 L150.6,552.1 L150.8,552.5 A2.2,2.2 0 0 0 155.2,552.5 L155.2,552.5 L155.4,552.1 L155.5,551.7 L155.7,551.2 L155.8,550.8 L156,550.3 L156.1,549.9 L156.3,549.4 L156.4,548.9 L156.6,548.5 L156.7,548 L156.9,547.5 L157,547Z" fill="#9bd4cb" stroke="#3f8f84" stroke-width="2.2" stroke-linejoin="round"/><path d="M28.5,558.3 C29.6,557.6 31.8,555.5 35.2,554.1 C38.6,552.7 44.6,551.6 48.8,549.9 C53,548.2 56.9,546.9 60.6,543.9 C64.3,540.9 67.1,535.8 70.8,532.1 C74.5,528.4 78.1,524.3 82.6,521.9 C87.1,519.5 93.1,517.8 97.9,517.7 C102.7,517.6 106.9,519 111.4,521.1 C115.9,523.2 120.5,527.7 125,530.4 C129.5,533.1 133.4,535.7 138.5,537.2 C143.6,538.8 151.3,539 155.5,539.7 C159.7,540.4 161.9,540.3 163.9,541.4 C165.9,542.5 166.7,545.6 167.3,546.5 L160,548.5 L152,549 L130,551 L110,553 L90,556 L60,558 L30,560Z" fill="#9bd4cb"/><path d="M83.6,552.3 L83.4,554.7 L83.4,557 L83.4,559.3 L83.5,561.7 L83.7,564 L84,566.3 L84.3,568.6 L84.8,570.9 L85.3,573.2 L85.8,575.5 L86.5,577.8 L87.2,580 A2.2,2.2 0 0 0 91.6,579 L91.6,579 L91.3,576.7 L91,574.5 L90.8,572.4 L90.7,570.2 L90.7,568.1 L90.7,565.9 L90.8,563.9 L91,561.8 L91.3,559.7 L91.6,557.7 L92,555.7 L92.4,553.7Z" fill="#9bd4cb"/><path d="M105,551 L105.2,552 L105.4,553 L105.5,554 L105.7,555 L105.9,556 L106,557.1 L106.1,558.2 L106.3,559.3 L106.4,560.4 L106.5,561.5 L106.6,562.6 L106.8,563.8 A2.8,2.8 0 0 0 112.2,564.2 L112.2,564.2 L112.5,563 L112.8,561.9 L113,560.7 L113.3,559.6 L113.5,558.5 L113.7,557.4 L114,556.3 L114.2,555.2 L114.4,554.2 L114.6,553.1 L114.8,552 L115,551Z" fill="#9bd4cb"/><path d="M126,549 L126.2,549.8 L126.4,550.6 L126.5,551.4 L126.7,552.2 L126.9,553 L127,553.8 L127.1,554.6 L127.3,555.4 L127.4,556.3 L127.5,557.1 L127.7,557.9 L127.8,558.7 A2.8,2.8 0 0 0 133.2,559.3 L133.2,559.3 L133.5,558.4 L133.8,557.6 L134,556.7 L134.3,555.9 L134.5,555 L134.7,554.2 L135,553.3 L135.2,552.5 L135.4,551.6 L135.6,550.7 L135.8,549.9 L136,549Z" fill="#9bd4cb"/><path d="M149,547 L149.1,547.5 L149.3,548 L149.4,548.5 L149.6,548.9 L149.7,549.4 L149.9,549.9 L150,550.3 L150.2,550.8 L150.3,551.2 L150.5,551.7 L150.6,552.1 L150.8,552.5 A2.2,2.2 0 0 0 155.2,552.5 L155.2,552.5 L155.4,552.1 L155.5,551.7 L155.7,551.2 L155.8,550.8 L156,550.3 L156.1,549.9 L156.3,549.4 L156.4,548.9 L156.6,548.5 L156.7,548 L156.9,547.5 L157,547Z" fill="#9bd4cb"/><ellipse cx="94.5" cy="539.7" rx="11.9" ry="7.1" transform="rotate(-5 94.5 539.7)" fill="#6db7ab" stroke="#5aa597" stroke-width="0.6"/></g>
<g><path d="M242,530.2 C242.8,529.5 243.8,527 247,526.1 C250.2,525.2 256.1,525.3 261.1,525.1 C266.1,524.9 271.8,526.4 277.2,525.1 C282.6,523.8 287.6,519.4 293.3,517.1 C299,514.8 306,512.3 311.4,511.1 C316.8,509.9 320.5,509 325.5,510 C330.5,511 336.9,513.7 341.6,517.1 C346.3,520.5 350.2,526 353.6,530.2 C357,534.4 358,538.7 361.7,542.2 C365.4,545.7 371,548.9 375.7,551.3 C380.4,553.6 386.9,554.8 389.8,556.3 C392.7,557.8 392.3,559.6 392.8,560.3 L388,562 L375,557 L355,552 L333,549 L305,545 L287,540 L271,536 L247,533.5Z" fill="#9bd4cb" stroke="#3f8f84" stroke-width="2.2" stroke-linejoin="round"/><path d="M264.2,529.4 L262.5,530.5 L260.9,531.5 L259.3,532.7 L257.8,533.8 L256.3,535 L254.9,536.3 L253.5,537.5 L252.1,538.9 L250.9,540.2 L249.6,541.6 L248.4,543.1 L247.3,544.5 A2.2,2.2 0 0 0 250.7,547.5 L250.7,547.5 L251.9,546.3 L253.2,545.2 L254.5,544.2 L255.9,543.1 L257.2,542.2 L258.6,541.2 L260.1,540.3 L261.6,539.5 L263.1,538.7 L264.6,538 L266.2,537.2 L267.8,536.6Z" fill="#9bd4cb" stroke="#3f8f84" stroke-width="2.2" stroke-linejoin="round"/><path d="M278,537.6 L278,539.6 L278.1,541.5 L278.1,543.4 L278.2,545.3 L278.3,547.1 L278.4,548.8 L278.5,550.5 L278.6,552.1 L278.8,553.7 L278.9,555.2 L279.1,556.6 L279.2,558 A2.8,2.8 0 0 0 284.8,558 L284.8,558 L284.9,556.7 L285.2,555.3 L285.4,553.8 L285.6,552.3 L285.9,550.8 L286.1,549.2 L286.4,547.5 L286.7,545.8 L287,544.1 L287.3,542.2 L287.6,540.3 L288,538.4Z" fill="#9bd4cb" stroke="#3f8f84" stroke-width="2.2" stroke-linejoin="round"/><path d="M300,544 L300.2,546.3 L300.4,548.5 L300.5,550.7 L300.7,552.8 L300.8,554.8 L301,556.8 L301.1,558.7 L301.2,560.5 L301.4,562.3 L301.5,564 L301.6,565.6 L301.7,567.2 A2.8,2.8 0 0 0 307.1,567.6 L307.1,567.6 L307.4,566 L307.7,564.3 L308,562.6 L308.2,560.8 L308.5,558.9 L308.7,556.9 L309,555 L309.2,552.9 L309.4,550.8 L309.6,548.6 L309.8,546.3 L310,544Z" fill="#9bd4cb" stroke="#3f8f84" stroke-width="2.2" stroke-linejoin="round"/><path d="M326.2,547.7 L325.9,549.5 L325.5,551.3 L325.2,553.1 L324.8,555 L324.4,556.8 L324,558.6 L323.5,560.4 L323.1,562.2 L322.6,564 L322.1,565.7 L321.5,567.5 L321,569.3 A2.8,2.8 0 0 0 326,571.5 L326,571.5 L326.9,569.8 L327.9,568.1 L328.7,566.4 L329.6,564.6 L330.5,562.9 L331.3,561.1 L332.1,559.4 L332.9,557.6 L333.6,555.8 L334.4,554 L335.1,552.1 L335.8,550.3Z" fill="#9bd4cb" stroke="#3f8f84" stroke-width="2.2" stroke-linejoin="round"/><path d="M349,551 L349.2,552.8 L349.4,554.6 L349.5,556.4 L349.7,558.2 L349.9,560 L350,561.8 L350.2,563.5 L350.3,565.3 L350.5,567.1 L350.6,568.8 L350.7,570.6 L350.9,572.3 A2.8,2.8 0 0 0 356.3,572.5 L356.3,572.5 L356.6,570.8 L356.8,569 L357.1,567.3 L357.3,565.5 L357.6,563.7 L357.8,561.9 L358,560.1 L358.2,558.3 L358.4,556.5 L358.6,554.7 L358.8,552.8 L359,551Z" fill="#9bd4cb" stroke="#3f8f84" stroke-width="2.2" stroke-linejoin="round"/><path d="M376,556.5 L376,557.9 L376,559.2 L376,560.4 L376,561.7 L376,562.9 L376.1,564 L376.1,565.2 L376.2,566.3 L376.2,567.3 L376.3,568.3 L376.4,569.3 L376.5,570.3 A2.2,2.2 0 0 0 380.9,570.5 L380.9,570.5 L381.1,569.6 L381.4,568.7 L381.6,567.7 L381.8,566.8 L382,565.7 L382.3,564.7 L382.5,563.5 L382.8,562.4 L383.1,561.2 L383.4,560 L383.7,558.8 L384,557.5Z" fill="#9bd4cb" stroke="#3f8f84" stroke-width="2.2" stroke-linejoin="round"/><path d="M242,530.2 C242.8,529.5 243.8,527 247,526.1 C250.2,525.2 256.1,525.3 261.1,525.1 C266.1,524.9 271.8,526.4 277.2,525.1 C282.6,523.8 287.6,519.4 293.3,517.1 C299,514.8 306,512.3 311.4,511.1 C316.8,509.9 320.5,509 325.5,510 C330.5,511 336.9,513.7 341.6,517.1 C346.3,520.5 350.2,526 353.6,530.2 C357,534.4 358,538.7 361.7,542.2 C365.4,545.7 371,548.9 375.7,551.3 C380.4,553.6 386.9,554.8 389.8,556.3 C392.7,557.8 392.3,559.6 392.8,560.3 L388,562 L375,557 L355,552 L333,549 L305,545 L287,540 L271,536 L247,533.5Z" fill="#9bd4cb"/><path d="M264.2,529.4 L262.5,530.5 L260.9,531.5 L259.3,532.7 L257.8,533.8 L256.3,535 L254.9,536.3 L253.5,537.5 L252.1,538.9 L250.9,540.2 L249.6,541.6 L248.4,543.1 L247.3,544.5 A2.2,2.2 0 0 0 250.7,547.5 L250.7,547.5 L251.9,546.3 L253.2,545.2 L254.5,544.2 L255.9,543.1 L257.2,542.2 L258.6,541.2 L260.1,540.3 L261.6,539.5 L263.1,538.7 L264.6,538 L266.2,537.2 L267.8,536.6Z" fill="#9bd4cb"/><path d="M278,537.6 L278,539.6 L278.1,541.5 L278.1,543.4 L278.2,545.3 L278.3,547.1 L278.4,548.8 L278.5,550.5 L278.6,552.1 L278.8,553.7 L278.9,555.2 L279.1,556.6 L279.2,558 A2.8,2.8 0 0 0 284.8,558 L284.8,558 L284.9,556.7 L285.2,555.3 L285.4,553.8 L285.6,552.3 L285.9,550.8 L286.1,549.2 L286.4,547.5 L286.7,545.8 L287,544.1 L287.3,542.2 L287.6,540.3 L288,538.4Z" fill="#9bd4cb"/><path d="M300,544 L300.2,546.3 L300.4,548.5 L300.5,550.7 L300.7,552.8 L300.8,554.8 L301,556.8 L301.1,558.7 L301.2,560.5 L301.4,562.3 L301.5,564 L301.6,565.6 L301.7,567.2 A2.8,2.8 0 0 0 307.1,567.6 L307.1,567.6 L307.4,566 L307.7,564.3 L308,562.6 L308.2,560.8 L308.5,558.9 L308.7,556.9 L309,555 L309.2,552.9 L309.4,550.8 L309.6,548.6 L309.8,546.3 L310,544Z" fill="#9bd4cb"/><path d="M326.2,547.7 L325.9,549.5 L325.5,551.3 L325.2,553.1 L324.8,555 L324.4,556.8 L324,558.6 L323.5,560.4 L323.1,562.2 L322.6,564 L322.1,565.7 L321.5,567.5 L321,569.3 A2.8,2.8 0 0 0 326,571.5 L326,571.5 L326.9,569.8 L327.9,568.1 L328.7,566.4 L329.6,564.6 L330.5,562.9 L331.3,561.1 L332.1,559.4 L332.9,557.6 L333.6,555.8 L334.4,554 L335.1,552.1 L335.8,550.3Z" fill="#9bd4cb"/><path d="M349,551 L349.2,552.8 L349.4,554.6 L349.5,556.4 L349.7,558.2 L349.9,560 L350,561.8 L350.2,563.5 L350.3,565.3 L350.5,567.1 L350.6,568.8 L350.7,570.6 L350.9,572.3 A2.8,2.8 0 0 0 356.3,572.5 L356.3,572.5 L356.6,570.8 L356.8,569 L357.1,567.3 L357.3,565.5 L357.6,563.7 L357.8,561.9 L358,560.1 L358.2,558.3 L358.4,556.5 L358.6,554.7 L358.8,552.8 L359,551Z" fill="#9bd4cb"/><path d="M376,556.5 L376,557.9 L376,559.2 L376,560.4 L376,561.7 L376,562.9 L376.1,564 L376.1,565.2 L376.2,566.3 L376.2,567.3 L376.3,568.3 L376.4,569.3 L376.5,570.3 A2.2,2.2 0 0 0 380.9,570.5 L380.9,570.5 L381.1,569.6 L381.4,568.7 L381.6,567.7 L381.8,566.8 L382,565.7 L382.3,564.7 L382.5,563.5 L382.8,562.4 L383.1,561.2 L383.4,560 L383.7,558.8 L384,557.5Z" fill="#9bd4cb"/><ellipse cx="319.4" cy="531.2" rx="12.5" ry="7" transform="rotate(5 319.4 531.2)" fill="#6db7ab" stroke="#5aa597" stroke-width="0.6"/></g>
<rect x="25" y="559" width="52.6" height="11" fill="#b04c52" fill-opacity="0.82" stroke="#9a4045" stroke-opacity="0.7" stroke-width="0.8"/>
<path d="M30,566 C38,560 44,562 50,566 C56,569 60,562 66,562" fill="none" stroke="#8f3f44" stroke-opacity="0.5" stroke-width="1.6"/>
<path d="M248,550.3 C262,551 275,552 285.3,553.3 C300,557 312,562 321.5,568.4" fill="none" stroke="#ad4a50" stroke-opacity="0.8" stroke-width="9"/>
<rect x="85.7" y="563.5" width="7.5" height="6.5" fill="#b8141c" transform="rotate(-25 89.4 566.8)"/>
<rect x="97.5" y="555" width="7.5" height="6.5" fill="#b8141c" transform="rotate(10 101.3 558.3)"/>
<rect x="104.2" y="565.2" width="7.5" height="6.5" fill="#b8141c" transform="rotate(-30 108 568.5)"/>
<rect x="166.1" y="544" width="7.5" height="6.5" fill="#b8141c" transform="rotate(-20 169.8 547.3)"/>
<rect x="177.9" y="534.5" width="7.5" height="6.5" fill="#b8141c" transform="rotate(15 181.7 537.8)"/>
<rect x="185.7" y="545.6" width="7.5" height="6.5" fill="#b8141c" transform="rotate(-30 189.4 548.9)"/>
<rect x="385.1" y="557" width="7.5" height="6.5" fill="#b8141c" transform="rotate(10 388.8 560.3)"/>
<rect x="372.9" y="566.1" width="7.5" height="6.5" fill="#b8141c" transform="rotate(-20 376.7 569.4)"/>
<rect x="392.1" y="567.1" width="7.5" height="6.5" fill="#b8141c" transform="rotate(-30 395.8 570.4)"/>
<path d="M186,484.5 L188.5,483 L191.9,484.4 L194.4,483.2 L196.9,483.1 L199.3,483.3 L201.6,481.5 L203.1,484.1 L205.1,484.4 L207.1,485.5 L209.2,487.3 L212.4,489.2 L217.5,490.1 L219.7,495 L222.7,498.3 L226.8,500.7 L225.9,505 L225.5,508.7 L225.1,512.5 L224,516.1 L222.6,519.3 L221.4,522.3 L219.7,525.1 L220,529.3 L215.9,529.8 L213.7,531.4 L211.1,532.2 L208.1,532.6 L204.9,531.7 L201.5,531.2 L198.2,530.3 L194.6,529.6 L190.2,531.4 L186.9,527.7 L183.3,526.8 L180.6,524.8 L178.5,522.4 L177,519.6 L175.2,516.7 L174.6,513.5 L174.7,510.5 L174.3,507.7 L175.5,505 L176.6,502.3 L178.2,499.8 L177.5,496.2 L180.8,494.7 L180.3,491.1 L183.9,490 L185.2,487.6Z" fill="#ef9494" stroke="#d46e6e" stroke-width="0.9"/>
<path d="M213.8,529 C214.4,529.7 211.7,536.1 211.5,539.3 C211.3,542.5 211.3,545.3 212.6,548.1 C213.9,550.9 218.6,552.9 219.3,555.9 C220.1,558.9 218.8,563.7 217.1,565.9 C215.4,568.1 211.7,570 209.3,569.2 C206.9,568.5 203.6,564.2 202.7,561.4 C201.8,558.6 202.7,555.2 203.8,552.6 C204.9,550 208.6,548.8 209.3,545.9 C210,543 207.4,537.8 208.2,535 C208.9,532.2 213.2,528.3 213.8,529Z" fill="#ef9494" stroke="#d46e6e" stroke-width="0.9"/>
<path d="M200,527 L216,527 L211.5,540 L208.5,540 Z" fill="#ef9494"/>
<path d="M202.7,503.8 C205,503.8 208,504.5 210,506 C212,507.5 215.4,508.3 214.9,512.7 C214.4,517.1 210.7,532.6 207.1,532.6 C203.5,532.6 195.2,517.1 193.3,512.7 C191.5,508.3 194.4,507.5 196,506 C197.6,504.5 200.4,503.8 202.7,503.8Z" fill="#da6c6e"/>
<g fill="#d46e6e"><circle cx="203.4" cy="497.2" r="0.5"/><circle cx="201" cy="524.5" r="0.5"/><circle cx="209.8" cy="516.7" r="0.5"/><circle cx="186.4" cy="502.8" r="0.5"/><circle cx="209" cy="519.6" r="0.5"/><circle cx="183.2" cy="507.9" r="0.5"/><circle cx="217.4" cy="511.1" r="0.5"/><circle cx="207.7" cy="522.5" r="0.5"/><circle cx="183.4" cy="507.2" r="0.5"/><circle cx="204.6" cy="518.2" r="0.5"/><circle cx="213.8" cy="516.4" r="0.5"/><circle cx="190.6" cy="506" r="0.5"/><circle cx="202.7" cy="515" r="0.5"/><circle cx="204.3" cy="521.3" r="0.5"/><circle cx="185.7" cy="513.9" r="0.5"/><circle cx="214.8" cy="515.7" r="0.5"/></g>
<g transform="translate(76.8,626.6) rotate(-8)"><ellipse rx="20" ry="13" fill="#a5564f" stroke="#8a3f3a" stroke-width="0.8"/><path d="M-11,-0.7 C-11,-7.8 4,-9.8 7,-5.9 C-2,-6.5 -5,-1.3 -6,3.2 Z" fill="#874540"/><path d="M1,5.9 C8,5.9 11,2.6 10,-1.9" fill="none" stroke="#c0706a" stroke-width="1.6" stroke-linecap="round"/></g>
<g transform="translate(171.3,646.6) rotate(5)"><ellipse rx="19" ry="12.5" fill="#a5564f" stroke="#8a3f3a" stroke-width="0.8"/><path d="M-10.5,-0.6 C-10.5,-7.5 3.8,-9.4 6.6,-5.6 C-1.9,-6.2 -4.8,-1.2 -5.7,3.1 Z" fill="#874540"/><path d="M1,5.6 C7.6,5.6 10.5,2.5 9.5,-1.9" fill="none" stroke="#c0706a" stroke-width="1.5" stroke-linecap="round"/></g>
<g transform="translate(346,678.7) rotate(8)"><ellipse rx="19.5" ry="12.5" fill="#a5564f" stroke="#8a3f3a" stroke-width="0.8"/><path d="M-10.7,-0.6 C-10.7,-7.5 3.9,-9.4 6.8,-5.6 C-2,-6.2 -4.9,-1.2 -5.8,3.1 Z" fill="#874540"/><path d="M1,5.6 C7.8,5.6 10.7,2.5 9.8,-1.9" fill="none" stroke="#c0706a" stroke-width="1.5" stroke-linecap="round"/></g>
<g><path d="M272.2,615 L274,617.2 L274.2,619.4 L271.2,620.9 L270.5,622.8 L272.7,626 L268.5,626.3 L267.4,627.9 L268.9,631.7 L267,633 L263.6,632.4 L262.1,633.7 L260.4,634.8 L258.9,636.3 L257.6,638.7 L254.9,636.9 L253,637.7 L251.2,640.5 L249,641.1 L247,638.3 L245,637.5 L243.1,636.9 L241,637 L239,636.4 L237.8,634.5 L235.7,634.1 L233.9,632.9 L232.6,631.4 L231.6,629.6 L227.8,629.8 L228.9,626.6 L228.5,624.6 L227.2,622.9 L227.1,620.9 L226.9,618.9 L226.3,617 L226.2,615 L226.2,613 L226.2,611 L226.4,608.9 L226.9,607 L227.7,605 L228.6,603.2 L229.9,601.6 L231.6,600.4 L231.2,597.2 L234.1,597.3 L234.3,594 L236.1,592.7 L239.5,594.6 L240.4,591.3 L242.9,592.3 L245,592.2 L247,591.9 L249,592.5 L251,592.2 L253.1,591.9 L255,592.6 L257.1,592.9 L258.6,594.5 L261.7,592.9 L262.4,595.9 L263.7,597.4 L265.5,598.5 L266.7,600.2 L267.5,602.1 L268.5,603.7 L270.3,605 L270.2,607.3 L273.3,608.5 L271.5,611 L272.2,613Z" fill="#ef9494" stroke="#d87474" stroke-width="0.8" stroke-linejoin="miter"/><path d="M261.3,617 C261.3,619.1 260,621.6 258.6,623.3 C257.1,625.1 254.8,627 252.8,627.3 C250.8,627.6 248.4,626 246.4,624.9 C244.5,623.8 242,622.4 241.2,620.6 C240.5,618.7 241.1,615.7 241.8,613.7 C242.6,611.6 244.1,609.1 245.9,608.2 C247.7,607.2 250.5,607.4 252.6,607.8 C254.7,608.2 257,609.2 258.4,610.8 C259.9,612.3 261.3,614.9 261.3,617Z" fill="#dd6f6f"/><g fill="#d87474"><circle cx="232.9" cy="612" r="0.5"/><circle cx="259.9" cy="598.6" r="0.5"/><circle cx="259" cy="605.9" r="0.5"/><circle cx="262.6" cy="610.5" r="0.5"/><circle cx="245.9" cy="623.4" r="0.5"/><circle cx="238.9" cy="614.3" r="0.5"/><circle cx="246.5" cy="631.5" r="0.5"/><circle cx="252" cy="597" r="0.5"/><circle cx="256" cy="619.2" r="0.5"/><circle cx="248.5" cy="631" r="0.5"/><circle cx="258.9" cy="599.1" r="0.5"/><circle cx="264" cy="608.4" r="0.5"/></g></g>
<g clip-path="url(#lpclip)">
<path d="M10,693 C11.6,689.1 13.6,692.5 19.8,694.1 C26.1,695.7 40,700.6 47.5,702.8 C55,705 61.7,705.5 64.9,707.1 C68.2,708.7 67,710.8 67,712.5 C67,714.2 72.8,716.5 64.9,717.3 C57,718.1 29,717.3 19.8,717.3 C10.7,717.3 11.6,721.3 10,717.3 C8.4,713.2 8.4,696.9 10,693Z" fill="#eeb1b1" stroke="#d7787c" stroke-width="1"/><ellipse cx="23.7" cy="703.4" rx="9" ry="4.5" transform="rotate(10 23.7 703.4)" fill="#e08d90" stroke="#d37a7e" stroke-width="0.6"/>
<path d="M68.1,707.1 C71.4,705.4 79.5,703.5 86.6,701.7 C93.6,699.9 103.5,696.7 110.4,696.3 C117.3,695.9 122,696.8 127.8,699.5 C133.6,702.2 139.4,708.1 145.2,712.5 C151,716.9 160,722.2 162.5,725.6 C165,729 166.1,733.5 160.3,733.1 C154.5,732.7 137.6,725.8 127.8,723.4 C118,721 111.8,719.7 101.8,718.6 C91.8,717.5 74,718 68.1,716.9 C62.2,715.8 66.5,713.6 66.5,712 C66.5,710.4 64.8,708.8 68.1,707.1Z" fill="#eeb1b1" stroke="#d7787c" stroke-width="1"/><ellipse cx="118" cy="706" rx="11" ry="5" transform="rotate(10 118 706)" fill="#e08d90" stroke="#d37a7e" stroke-width="0.6"/>
<path d="M161.4,724.9 C165.6,723.7 179.8,727.9 188,727.7 C196.2,727.5 202.1,723.5 210.5,723.5 C218.9,723.5 229.8,727 238.5,727.7 C247.2,728.4 257.9,726.5 262.4,727.7 C266.8,728.9 268.2,732.4 265.2,734.7 C262.1,737 252.3,739.8 244.1,741.7 C235.9,743.6 225.4,745.9 216.1,745.9 C206.8,745.9 196.9,743.6 188,741.7 C179.1,739.8 167.2,737.5 162.8,734.7 C158.4,731.9 157.2,726.1 161.4,724.9Z" fill="#eeb1b1" stroke="#d7787c" stroke-width="1"/><ellipse cx="213.3" cy="731.9" rx="11" ry="5" transform="rotate(0 213.3 731.9)" fill="#e08d90" stroke="#d37a7e" stroke-width="0.6"/>
<path d="M263.8,726.3 C266.6,722.5 276.4,715.2 283.4,710.8 C290.4,706.3 298.3,701 305.8,699.6 C313.3,698.2 319.9,701 328.3,702.4 C336.7,703.8 351.4,705.6 356.3,708 C361.2,710.4 362.4,714.9 357.7,716.5 C353,718.1 338.8,717 328.3,717.9 C317.8,718.8 304.9,719.5 294.6,722.1 C284.3,724.7 271.7,732.6 266.6,733.3 C261.5,734 261,730 263.8,726.3Z" fill="#eeb1b1" stroke="#d7787c" stroke-width="1"/><ellipse cx="308.1" cy="706.6" rx="11" ry="5" transform="rotate(-8 308.1 706.6)" fill="#e08d90" stroke="#d37a7e" stroke-width="0.6"/>
<path d="M359.1,708 C363.5,706.2 376.4,704.5 384.3,702.4 C392.2,700.3 400,696.3 406.8,695.4 C413.6,694.5 420.8,696.5 425,696.8 C429.2,697.1 430.8,693.5 432,697 C433.2,700.5 433.2,714.4 432,717.9 C430.8,721.4 436.7,717.9 425,717.9 C413.3,717.9 373.1,718.7 361.9,717.9 C350.7,717.1 358.5,714.6 358,713 C357.5,711.4 354.7,709.8 359.1,708Z" fill="#eeb1b1" stroke="#d7787c" stroke-width="1"/><ellipse cx="408.2" cy="704.7" rx="11" ry="5" transform="rotate(0 408.2 704.7)" fill="#e08d90" stroke="#d37a7e" stroke-width="0.6"/>
</g>
<text x="193.7" y="700.7" font-size="23.5" fill="#1a1a1a" textLength="82.9" lengthAdjust="spacingAndGlyphs" stroke="#1a1a1a">Dilation</text>
<text x="20.2" y="815.7" font-size="24" fill="#c43a36" textLength="159.7" lengthAdjust="spacingAndGlyphs" stroke="#c43a36">Tumor vessel</text>
<g stroke="#22665c" stroke-width="2.6" stroke-dasharray="7 6" fill="none"><path d="M440,330 L359,519"/><path d="M357,573 L438,828"/></g><circle cx="358.6" cy="520.1" r="3.8" fill="#22665c"/><circle cx="356.6" cy="573.4" r="3.8" fill="#22665c"/>
<rect x="16.6" y="323.1" width="408.3" height="503.8" fill="none" stroke="#fff" stroke-width="1.2"/>
<rect x="16" y="322.5" width="409.5" height="505" fill="none" stroke="#a82525" stroke-width="2.6" stroke-dasharray="7.35 7.35"/>
<rect x="444.5" y="323" width="490" height="505.5" fill="#e2f1ee"/>
<g clip-path="url(#rpclip)">
<circle cx="691.5" cy="961.4" r="533.4" fill="#aed6cd"/><circle cx="691.5" cy="961.4" r="528.4" fill="#dff5f1"/><circle cx="691.5" cy="961.4" r="519.4" fill="#aed6cd"/><circle cx="691.5" cy="961.4" r="514.4" fill="#eff7f4"/>
<circle cx="685.7" cy="896.7" r="244.7" fill="#eefaf6"/>
<circle cx="685.7" cy="896.7" r="244.7" fill="none" stroke="#6aa892" stroke-width="4.4" stroke-linecap="round" stroke-dasharray="24.7 16.13" stroke-dashoffset="12"/>
<circle cx="685.7" cy="896.7" r="244.7" fill="none" stroke="#a6d4c5" stroke-width="2.4" stroke-linecap="round" stroke-dasharray="24.7 16.13" stroke-dashoffset="12"/>
</g>
<g fill="#3d7a78" stroke="#3d7a78"><text x="461.7" y="358.3" font-size="30" textLength="105.8" lengthAdjust="spacingAndGlyphs">NKX2-3</text><text x="569.4" y="348" font-size="16.5" textLength="31.3" lengthAdjust="spacingAndGlyphs">high</text><text x="610.5" y="358.3" font-size="30" textLength="195.8" lengthAdjust="spacingAndGlyphs">tumor pericyte</text></g>
<defs><g id="ltype" stroke="#d35a5e" stroke-width="1.3" fill="#e8a6a9"><path d="M541,389.6 C544,389.6 545,391 544.7,394 C544.5,400 544,404 541,407 C537,411 533,413 532.8,417 C533,420 536,421 538.7,421.4 L538.7,505.6 C535,510 532,511 527,511 C518,511 513,507 512.9,497 C512.5,480 511,460 508.5,446.5 C506,436 506,427 509.2,420 C512,415 520,413 528.4,409.5 C533,407 536.5,404 536.5,400 C537,396 537.3,390 541,389.6 Z"/><path d="M551,389.6 C548,389.6 547,391 547.3,394 C547.5,400 548,404 551,407 C555,411 559,413 559.2,417 C559,420 554,421 551.3,421.4 L551.3,505.6 C557,510 560,511 565,511 C574,511 579,507 579.1,497 C579.5,480 581,460 583.5,446.5 C586,436 586,427 582.8,420 C580,415 572,413 563.6,409.5 C559,407 555.5,404 555.5,400 C555,396 554.7,390 551,389.6 Z"/><rect x="538.7" y="421.4" width="12.6" height="84.2" fill="#e28e92"/></g></defs><use href="#ltype"/>
<text transform="translate(532.5,496) rotate(-90)" font-size="18.5" font-weight="normal" style="font-weight:normal" fill="#111" textLength="53" lengthAdjust="spacingAndGlyphs">L type</text>
<path d="M503.4,499.6 C485,505 476,525 475,552" fill="none" stroke="#1a1a1a" stroke-width="1.6"/><path d="M469.5,546 L475,558.5 L480.5,546 Z" fill="#1a1a1a"/>
<path d="M627,499.6 C618,490 605,487 590,485" fill="none" stroke="#1a1a1a" stroke-width="1.8"/><path d="M595,478.5 L584.5,483 L594,490.5 Z" fill="#1a1a1a"/>
<path d="M682.5,598 C688,585 684,565 673,550" fill="none" stroke="#1a1a1a" stroke-width="1.8"/><path d="M667,552 L671,543.5 L677.5,550 Z" fill="#1a1a1a" transform="rotate(-10 672 548)"/>
<path d="M596.8,489.4 L629.8,486.2" stroke="#c0474a" stroke-width="3.4" stroke-linecap="round"/><path d="M614.7,472.9 L612,504.5" stroke="#c0474a" stroke-width="3.4" stroke-linecap="round"/>
<path d="M673.5,567 L703,578.6" stroke="#c0474a" stroke-width="3.4" stroke-linecap="round"/><path d="M697.7,559.8 L678.9,585.8" stroke="#c0474a" stroke-width="3.4" stroke-linecap="round"/>
<rect x="621.5" y="503.3" width="73.5" height="35" rx="17.5" fill="#e6e2f6" stroke="#3a2b8c" stroke-width="2.6"/>
<text x="638.5" y="527" font-size="17" fill="#111" textLength="35" lengthAdjust="spacingAndGlyphs" stroke="#111">PKA</text>
<rect x="654.7" y="603.7" width="70.8" height="34.1" rx="17" fill="#e6e2f6" stroke="#3a2b8c" stroke-width="2.6"/>
<text x="662.7" y="627" font-size="17" fill="#111" textLength="50.3" lengthAdjust="spacingAndGlyphs" stroke="#111">cAMP</text>
<rect x="497.5" y="607" width="62.2" height="32.5" rx="16.2" fill="#dbedf3" stroke="#2e6d7b" stroke-width="3.6"/>
<text x="507" y="627.7" font-size="17" fill="#111" textLength="39.8" lengthAdjust="spacingAndGlyphs" stroke="#111">AMP</text>
<path d="M575,621.5 L655,621.5" stroke="url(#fadeL)" stroke-width="2.2"/><path d="M578,615.5 L566.5,621.5 L578,627.5 Z" fill="#1a1a1a"/>
<path d="M596.8,621.6 C622,630 642,660 645,714" fill="none" stroke="url(#fadeD)" stroke-width="2"/>
<text x="448" y="582.6" font-size="18" fill="#9e2020" textLength="131" lengthAdjust="spacingAndGlyphs" stroke="#9e2020">Cell relaxation</text>
<g fill="#1e8fd0"><circle cx="509.7" cy="541" r="4"/><circle cx="500.2" cy="551.5" r="4"/><circle cx="515" cy="554.2" r="4"/></g>
<text x="524.5" y="556.3" font-size="18.5" style="font-weight:normal" fill="#1a7fb8" textLength="22.3" lengthAdjust="spacingAndGlyphs">Ca</text>
<text x="548.5" y="550" font-size="10.5" style="font-weight:normal" fill="#1a7fb8" textLength="12.5" lengthAdjust="spacingAndGlyphs">2+</text>
<path d="M567.3,537.7 L567.3,558" stroke="#1a7fb8" stroke-width="1.8"/><path d="M563.5,555 L567.3,563 L571.1,555 Z" fill="#1a7fb8"/>
<path d="M802.3,460.6 C802,457 802,453.1 803.8,449.1 C805.6,445.1 808.6,440.1 813,436.8 C817.4,433.5 823.5,431.1 829.9,429.2 C836.3,427.3 843.7,425.7 851.4,425.3 C859.1,424.9 867.7,426.4 875.9,426.9 C884.1,427.4 894.4,427.4 900.5,428.4 C906.6,429.4 909.9,430.1 912.8,433 C915.7,435.9 917.6,441.5 918.1,446 C918.6,450.5 917.7,456 915.8,459.8 C913.9,463.6 910.2,466.8 906.6,469 C903,471.2 898.6,472.9 894.3,472.9 C889.9,472.9 884.3,469.4 880.5,469 C876.7,468.6 874.9,468.8 871.3,470.5 C867.7,472.2 862.3,479 859,479 C855.7,479 854.5,473 851.4,470.6 C848.3,468.2 844.4,464.9 840.6,464.4 C836.8,463.9 833,466.1 828.4,467.5 C823.8,468.9 816.9,472.4 813,472.9 C809.1,473.4 807.1,472.7 805.3,470.6 C803.5,468.6 802.5,464.2 802.3,460.6Z" fill="#2e7478" stroke="#1f5a5f" stroke-width="1.6"/>
<path d="M856,421.5 C856.8,418.3 858,415.3 862.1,413.8 C866.2,412.3 874.6,411.8 880.5,412.3 C886.4,412.8 893.8,414.3 897.4,416.9 C901,419.4 902,424.9 902,427.6 C902,430.3 899.4,432.2 897.4,433 C895.4,433.8 891.5,431.6 889.7,432.2 C887.9,432.8 889.5,435.9 886.7,436.8 C883.9,437.7 877.8,438.2 872.9,437.6 C868,437 860.3,435.7 857.5,433 C854.7,430.3 855.2,424.7 856,421.5Z" fill="#d3992d" stroke="#9a6020" stroke-width="1"/>
<text x="814.6" y="453.7" font-size="17" fill="#fff" stroke="#fff" stroke-width="0.25" textLength="83.6" lengthAdjust="spacingAndGlyphs">Z-GP-NB2</text>
<path d="M840.2,484 C815,500 800,530 798,566 C796,590 794,620 794,650" fill="none" stroke="#1a1a1a" stroke-width="1.8"/><path d="M788.5,645 L794,657.5 L799.5,645 Z" fill="#1a1a1a"/>
<path d="M798,566 C805,595 825,610 846,615" fill="none" stroke="#1a1a1a" stroke-width="1.8"/><path d="M843,609 L854.5,617 L841,621 Z" fill="#1a1a1a"/>
<path d="M770.9,559.6 L797.2,557.9 L793,553.2 L813.3,552.8 L809,546 L834.9,545.2 L838.2,555.3 L820.5,553.6 L823.4,562.5 L804.4,559.6 L807.3,567.6 Z" fill="#e8801a"/>
<text x="826" y="592" font-size="15.5" fill="#111" stroke="#111" stroke-width="0.2" textLength="85" lengthAdjust="spacingAndGlyphs">Hydrolysis</text>
<path d="M867,622 C866,614 876,610 890,610 C905,610 924,614 926,626 C928,636 922,641 915,638 C910,636 906,642 900,645 C893,648 882,646 874,643 C866,640 867,630 867,622 Z" fill="#d3992d" stroke="#9a6020" stroke-width="1"/>
<text x="872" y="633.5" font-size="15.5" fill="#fff" stroke="#fff" stroke-width="0.25" textLength="43" lengthAdjust="spacingAndGlyphs">Z-GP</text>
<path d="M765.8,702.1 C765.4,698.3 766.9,690.1 769.2,685.7 C771.4,681.3 773.8,678.7 779.3,675.8 C784.8,673 795.6,668.4 802,668.6 C808.4,668.8 811.3,676.4 817.7,676.9 C824.1,677.4 834.8,670.8 840.2,671.4 C845.7,671.9 848.7,675.9 850.4,680.2 C852.1,684.4 851.5,692.1 850.4,696.7 C849.3,701.3 847.6,706.7 843.7,707.7 C839.8,708.6 831.1,703.4 826.7,702.1 C822.4,700.8 820.9,698.3 817.7,699.9 C814.5,701.6 810.6,711.8 807.5,712 C804.5,712.2 802.8,702.9 799.6,701 C796.4,699.2 793,699.7 788.3,701 C783.7,702.3 775.2,708.6 771.5,708.7 C767.7,708.9 766.2,706 765.8,702.1Z" fill="#2e7478" stroke="#1f5a5f" stroke-width="1.6"/>
<text x="791.6" y="693.3" font-size="16" fill="#fff" stroke="#fff" stroke-width="0.25" textLength="34" lengthAdjust="spacingAndGlyphs">NB2</text>
<path d="M792.6,717 C795,740 782,758 763,766" fill="none" stroke="#1a1a1a" stroke-width="1.8"/><path d="M768,759 L756,769 L771,771 Z" fill="#1a1a1a"/>
<g fill="#d97070"><ellipse cx="831.5" cy="767" rx="40.5" ry="16.1" transform="rotate(-34 831.5 767)"/><circle cx="861" cy="747.4" r="9.6"/><circle cx="859.5" cy="752.7" r="10.3"/><circle cx="854.5" cy="759.3" r="10.2"/><circle cx="850.6" cy="765" r="8.7"/><circle cx="834.3" cy="776.8" r="9.3"/><circle cx="823.1" cy="785" r="7.6"/><circle cx="814.3" cy="788" r="8"/><circle cx="806" cy="788.7" r="9.1"/><circle cx="801.5" cy="788.5" r="7.9"/><circle cx="802.7" cy="782.8" r="10.2"/><circle cx="806.2" cy="774" r="7.7"/><circle cx="815.4" cy="765" r="7.7"/><circle cx="825.9" cy="757.1" r="7.6"/><circle cx="835.1" cy="754.2" r="10"/><circle cx="847.3" cy="746.3" r="7.9"/><circle cx="857.8" cy="746.1" r="10"/></g><g fill="#e27f7f" opacity="0.35"><circle cx="827" cy="780.6" r="6.3"/><circle cx="836.3" cy="757" r="7.4"/><circle cx="845" cy="768.6" r="7.3"/><circle cx="821" cy="770.9" r="5.2"/><circle cx="811" cy="770.8" r="5.6"/><circle cx="830.8" cy="756.1" r="6.7"/><circle cx="822.2" cy="768.9" r="7.1"/></g>
<text transform="translate(803.3,788.2) rotate(-32.5)" font-size="16.5" fill="#111" stroke="#111" stroke-width="0.2" textLength="70" lengthAdjust="spacingAndGlyphs">NKX2-3</text>
<g><path d="M510.4,803.9 L510.4,811.5" stroke="#2a63a8" stroke-width="1.3"/><path d="M510.4,811.5 L510.4,819.7" stroke="#d23a3a" stroke-width="1.3"/><path d="M515.4,808.7 L515.4,811.5" stroke="#2a63a8" stroke-width="1.3"/><path d="M515.4,811.5 L515.4,819" stroke="#d23a3a" stroke-width="1.3"/><path d="M520.4,815.1 L520.4,811.5" stroke="#2a63a8" stroke-width="1.3"/><path d="M520.4,811.5 L520.4,814" stroke="#d23a3a" stroke-width="1.3"/><path d="M525.4,819.5 L525.4,811.5" stroke="#2a63a8" stroke-width="1.3"/><path d="M525.4,811.5 L525.4,807.6" stroke="#d23a3a" stroke-width="1.3"/><path d="M530.4,819.3 L530.4,811.5" stroke="#2a63a8" stroke-width="1.3"/><path d="M530.4,811.5 L530.4,803.4" stroke="#d23a3a" stroke-width="1.3"/><path d="M535.4,814.6 L535.4,811.5" stroke="#2a63a8" stroke-width="1.3"/><path d="M535.4,811.5 L535.4,803.8" stroke="#d23a3a" stroke-width="1.3"/><path d="M540.4,808.2 L540.4,811.5" stroke="#2a63a8" stroke-width="1.3"/><path d="M540.4,811.5 L540.4,808.6" stroke="#d23a3a" stroke-width="1.3"/><path d="M545.4,803.7 L545.4,811.5" stroke="#2a63a8" stroke-width="1.3"/><path d="M545.4,811.5 L545.4,815" stroke="#d23a3a" stroke-width="1.3"/><path d="M550.4,803.6 L550.4,811.5" stroke="#2a63a8" stroke-width="1.3"/><path d="M550.4,811.5 L550.4,819.4" stroke="#d23a3a" stroke-width="1.3"/><path d="M555.4,808 L555.4,811.5" stroke="#2a63a8" stroke-width="1.3"/><path d="M555.4,811.5 L555.4,819.3" stroke="#d23a3a" stroke-width="1.3"/><path d="M560.4,814.4 L560.4,811.5" stroke="#2a63a8" stroke-width="1.3"/><path d="M560.4,811.5 L560.4,814.8" stroke="#d23a3a" stroke-width="1.3"/><path d="M565.4,819.2 L565.4,811.5" stroke="#2a63a8" stroke-width="1.3"/><path d="M565.4,811.5 L565.4,808.3" stroke="#d23a3a" stroke-width="1.3"/><path d="M570.4,819.6 L570.4,811.5" stroke="#2a63a8" stroke-width="1.3"/><path d="M570.4,811.5 L570.4,803.7" stroke="#d23a3a" stroke-width="1.3"/><path d="M575.4,815.4 L575.4,811.5" stroke="#2a63a8" stroke-width="1.3"/><path d="M575.4,811.5 L575.4,803.5" stroke="#d23a3a" stroke-width="1.3"/><path d="M580.4,809 L580.4,811.5" stroke="#2a63a8" stroke-width="1.3"/><path d="M580.4,811.5 L580.4,807.9" stroke="#d23a3a" stroke-width="1.3"/><path d="M585.4,804 L585.4,811.5" stroke="#2a63a8" stroke-width="1.3"/><path d="M585.4,811.5 L585.4,814.3" stroke="#d23a3a" stroke-width="1.3"/><path d="M590.4,803.3 L590.4,811.5" stroke="#2a63a8" stroke-width="1.3"/><path d="M590.4,811.5 L590.4,819.1" stroke="#d23a3a" stroke-width="1.3"/><path d="M595.4,807.3 L595.4,811.5" stroke="#2a63a8" stroke-width="1.3"/><path d="M595.4,811.5 L595.4,819.6" stroke="#d23a3a" stroke-width="1.3"/><path d="M600.4,813.6 L600.4,811.5" stroke="#2a63a8" stroke-width="1.3"/><path d="M600.4,811.5 L600.4,815.5" stroke="#d23a3a" stroke-width="1.3"/><path d="M605.4,818.8 L605.4,811.5" stroke="#2a63a8" stroke-width="1.3"/><path d="M605.4,811.5 L605.4,809.1" stroke="#d23a3a" stroke-width="1.3"/><path d="M610.4,819.8 L610.4,811.5" stroke="#2a63a8" stroke-width="1.3"/><path d="M610.4,811.5 L610.4,804.1" stroke="#d23a3a" stroke-width="1.3"/><path d="M615.4,816.1 L615.4,811.5" stroke="#2a63a8" stroke-width="1.3"/><path d="M615.4,811.5 L615.4,803.3" stroke="#d23a3a" stroke-width="1.3"/><path d="M620.4,809.7 L620.4,811.5" stroke="#2a63a8" stroke-width="1.3"/><path d="M620.4,811.5 L620.4,807.2" stroke="#d23a3a" stroke-width="1.3"/><path d="M625.4,804.4 L625.4,811.5" stroke="#2a63a8" stroke-width="1.3"/><path d="M625.4,811.5 L625.4,813.5" stroke="#d23a3a" stroke-width="1.3"/><path d="M630.4,803.1 L630.4,811.5" stroke="#2a63a8" stroke-width="1.3"/><path d="M630.4,811.5 L630.4,818.7" stroke="#d23a3a" stroke-width="1.3"/><path d="M635.4,806.6 L635.4,811.5" stroke="#2a63a8" stroke-width="1.3"/><path d="M635.4,811.5 L635.4,819.8" stroke="#d23a3a" stroke-width="1.3"/><path d="M640.4,812.9 L640.4,811.5" stroke="#2a63a8" stroke-width="1.3"/><path d="M640.4,811.5 L640.4,816.2" stroke="#d23a3a" stroke-width="1.3"/><path d="M645.4,818.3 L645.4,811.5" stroke="#2a63a8" stroke-width="1.3"/><path d="M645.4,811.5 L645.4,809.9" stroke="#d23a3a" stroke-width="1.3"/><path d="M650.4,819.9 L650.4,811.5" stroke="#2a63a8" stroke-width="1.3"/><path d="M650.4,811.5 L650.4,804.5" stroke="#d23a3a" stroke-width="1.3"/><path d="M655.4,816.7 L655.4,811.5" stroke="#2a63a8" stroke-width="1.3"/><path d="M655.4,811.5 L655.4,803.1" stroke="#d23a3a" stroke-width="1.3"/><path d="M660.4,810.5 L660.4,811.5" stroke="#2a63a8" stroke-width="1.3"/><path d="M660.4,811.5 L660.4,806.5" stroke="#d23a3a" stroke-width="1.3"/><path d="M665.4,804.9 L665.4,811.5" stroke="#2a63a8" stroke-width="1.3"/><path d="M665.4,811.5 L665.4,812.8" stroke="#d23a3a" stroke-width="1.3"/><path d="M670.4,803 L670.4,811.5" stroke="#2a63a8" stroke-width="1.3"/><path d="M670.4,811.5 L670.4,818.3" stroke="#d23a3a" stroke-width="1.3"/><path d="M675.4,806 L675.4,811.5" stroke="#2a63a8" stroke-width="1.3"/><path d="M675.4,811.5 L675.4,819.9" stroke="#d23a3a" stroke-width="1.3"/><path d="M680.4,812.1 L680.4,811.5" stroke="#2a63a8" stroke-width="1.3"/><path d="M680.4,811.5 L680.4,816.8" stroke="#d23a3a" stroke-width="1.3"/><path d="M685.4,817.8 L685.4,811.5" stroke="#2a63a8" stroke-width="1.3"/><path d="M685.4,811.5 L685.4,810.6" stroke="#d23a3a" stroke-width="1.3"/><path d="M690.4,820 L690.4,811.5" stroke="#2a63a8" stroke-width="1.3"/><path d="M690.4,811.5 L690.4,805" stroke="#d23a3a" stroke-width="1.3"/><path d="M695.4,817.3 L695.4,811.5" stroke="#2a63a8" stroke-width="1.3"/><path d="M695.4,811.5 L695.4,803" stroke="#d23a3a" stroke-width="1.3"/><path d="M700.4,811.3 L700.4,811.5" stroke="#2a63a8" stroke-width="1.3"/><path d="M700.4,811.5 L700.4,805.9" stroke="#d23a3a" stroke-width="1.3"/><path d="M705.4,805.4 L705.4,811.5" stroke="#2a63a8" stroke-width="1.3"/><path d="M705.4,811.5 L705.4,812" stroke="#d23a3a" stroke-width="1.3"/><path d="M710.4,803 L710.4,811.5" stroke="#2a63a8" stroke-width="1.3"/><path d="M710.4,811.5 L710.4,817.8" stroke="#d23a3a" stroke-width="1.3"/><path d="M715.4,805.4 L715.4,811.5" stroke="#2a63a8" stroke-width="1.3"/><path d="M715.4,811.5 L715.4,820" stroke="#d23a3a" stroke-width="1.3"/><path d="M720.4,811.3 L720.4,811.5" stroke="#2a63a8" stroke-width="1.3"/><path d="M720.4,811.5 L720.4,817.4" stroke="#d23a3a" stroke-width="1.3"/><path d="M725.4,817.3 L725.4,811.5" stroke="#2a63a8" stroke-width="1.3"/><path d="M725.4,811.5 L725.4,811.4" stroke="#d23a3a" stroke-width="1.3"/><path d="M730.4,820 L730.4,811.5" stroke="#2a63a8" stroke-width="1.3"/><path d="M730.4,811.5 L730.4,805.5" stroke="#d23a3a" stroke-width="1.3"/><path d="M735.4,817.8 L735.4,811.5" stroke="#2a63a8" stroke-width="1.3"/><path d="M735.4,811.5 L735.4,803" stroke="#d23a3a" stroke-width="1.3"/><path d="M740.4,812.1 L740.4,811.5" stroke="#2a63a8" stroke-width="1.3"/><path d="M740.4,811.5 L740.4,805.3" stroke="#d23a3a" stroke-width="1.3"/><path d="M745.4,806 L745.4,811.5" stroke="#2a63a8" stroke-width="1.3"/><path d="M745.4,811.5 L745.4,811.2" stroke="#d23a3a" stroke-width="1.3"/><path d="M750.4,803 L750.4,811.5" stroke="#2a63a8" stroke-width="1.3"/><path d="M750.4,811.5 L750.4,817.2" stroke="#d23a3a" stroke-width="1.3"/><path d="M755.4,804.9 L755.4,811.5" stroke="#2a63a8" stroke-width="1.3"/><path d="M755.4,811.5 L755.4,820" stroke="#d23a3a" stroke-width="1.3"/><path d="M760.4,810.5 L760.4,811.5" stroke="#2a63a8" stroke-width="1.3"/><path d="M760.4,811.5 L760.4,817.9" stroke="#d23a3a" stroke-width="1.3"/><path d="M765.4,816.7 L765.4,811.5" stroke="#2a63a8" stroke-width="1.3"/><path d="M765.4,811.5 L765.4,812.2" stroke="#d23a3a" stroke-width="1.3"/><path d="M770.4,819.9 L770.4,811.5" stroke="#2a63a8" stroke-width="1.3"/><path d="M770.4,811.5 L770.4,806.1" stroke="#d23a3a" stroke-width="1.3"/><path d="M775.4,818.3 L775.4,811.5" stroke="#2a63a8" stroke-width="1.3"/><path d="M775.4,811.5 L775.4,803" stroke="#d23a3a" stroke-width="1.3"/><path d="M780.4,812.9 L780.4,811.5" stroke="#2a63a8" stroke-width="1.3"/><path d="M780.4,811.5 L780.4,804.8" stroke="#d23a3a" stroke-width="1.3"/><path d="M785.4,806.6 L785.4,811.5" stroke="#2a63a8" stroke-width="1.3"/><path d="M785.4,811.5 L785.4,810.4" stroke="#d23a3a" stroke-width="1.3"/><path d="M790.4,803.1 L790.4,811.5" stroke="#2a63a8" stroke-width="1.3"/><path d="M790.4,811.5 L790.4,816.6" stroke="#d23a3a" stroke-width="1.3"/><path d="M795.4,804.4 L795.4,811.5" stroke="#2a63a8" stroke-width="1.3"/><path d="M795.4,811.5 L795.4,819.9" stroke="#d23a3a" stroke-width="1.3"/><path d="M800.4,809.7 L800.4,811.5" stroke="#2a63a8" stroke-width="1.3"/><path d="M800.4,811.5 L800.4,818.4" stroke="#d23a3a" stroke-width="1.3"/></g>
<path d="M507.4,817.8 L509.4,819.2 L511.4,819.9 L513.4,819.9 L515.4,819 L517.4,817.4 L519.4,815.2 L521.4,812.7 L523.4,810.1 L525.4,807.6 L527.4,805.5 L529.4,804 L531.4,803.1 L533.4,803.1 L535.4,803.8 L537.4,805.3 L539.4,807.4 L541.4,809.9 L543.4,812.5 L545.4,815 L547.4,817.2 L549.4,818.9 L551.4,819.8 L553.4,820 L555.4,819.3 L557.4,817.9 L559.4,815.9 L561.4,813.5 L563.4,810.9 L565.4,808.3 L567.4,806.1 L569.4,804.4 L571.4,803.3 L573.4,803 L575.4,803.5 L577.4,804.8 L579.4,806.7 L581.4,809.1 L583.4,811.7 L585.4,814.3 L587.4,816.6 L589.4,818.4 L591.4,819.6 L593.4,820 L595.4,819.6 L597.4,818.4 L599.4,816.6 L601.4,814.3 L603.4,811.7 L605.4,809.1 L607.4,806.7 L609.4,804.8 L611.4,803.5 L613.4,803 L615.4,803.3 L617.4,804.4 L619.4,806.1 L621.4,808.4 L623.4,810.9 L625.4,813.5 L627.4,815.9 L629.4,817.9 L631.4,819.3 L633.4,820 L635.4,819.8 L637.4,818.8 L639.4,817.2 L641.4,815 L643.4,812.5 L645.4,809.9 L647.4,807.4 L649.4,805.3 L651.4,803.8 L653.4,803.1 L655.4,803.1 L657.4,804 L659.4,805.5 L661.4,807.6 L663.4,810.1 L665.4,812.8 L667.4,815.3 L669.4,817.4 L671.4,819 L673.4,819.9 L675.4,819.9 L677.4,819.2 L679.4,817.8 L681.4,815.7 L683.4,813.3 L685.4,810.6 L687.4,808.1 L689.4,805.9 L691.4,804.2 L693.4,803.2 L695.4,803 L697.4,803.6 L699.4,805 L701.4,807 L703.4,809.4 L705.4,812 L707.4,814.5 L709.4,816.8 L711.4,818.6 L713.4,819.7 L715.4,820 L717.4,819.5 L719.4,818.3 L721.4,816.4 L723.4,814 L725.4,811.4 L727.4,808.8 L729.4,806.5 L731.4,804.6 L733.4,803.4 L735.4,803 L737.4,803.4 L739.4,804.5 L741.4,806.3 L743.4,808.6 L745.4,811.2 L747.4,813.8 L749.4,816.2 L751.4,818.1 L753.4,819.4 L755.4,820 L757.4,819.7 L759.4,818.7 L761.4,817 L763.4,814.8 L765.4,812.2 L767.4,809.6 L769.4,807.2 L771.4,805.1 L773.4,803.7 L775.4,803 L777.4,803.2 L779.4,804.1 L781.4,805.7 L783.4,807.9 L785.4,810.4 L787.4,813 L789.4,815.5 L791.4,817.6 L793.4,819.1 L795.4,819.9 L797.4,819.9 L799.4,819.1 L801.4,817.6" fill="none" stroke="#1f5fa8" stroke-width="2.8"/>
<path d="M507.4,803 L509.4,803.4 L511.4,804.6 L513.4,806.4 L515.4,808.7 L517.4,811.3 L519.4,813.9 L521.4,816.3 L523.4,818.2 L525.4,819.5 L527.4,820 L529.4,819.7 L531.4,818.6 L533.4,816.9 L535.4,814.6 L537.4,812.1 L539.4,809.5 L541.4,807.1 L543.4,805.1 L545.4,803.7 L547.4,803 L549.4,803.2 L551.4,804.1 L553.4,805.8 L555.4,808 L557.4,810.5 L559.4,813.1 L561.4,815.6 L563.4,817.7 L565.4,819.2 L567.4,819.9 L569.4,819.9 L571.4,819 L573.4,817.5 L575.4,815.4 L577.4,812.9 L579.4,810.3 L581.4,807.8 L583.4,805.6 L585.4,804 L587.4,803.1 L589.4,803.1 L591.4,803.8 L593.4,805.2 L595.4,807.3 L597.4,809.7 L599.4,812.4 L601.4,814.9 L603.4,817.1 L605.4,818.8 L607.4,819.8 L609.4,820 L611.4,819.4 L613.4,818 L615.4,816.1 L617.4,813.6 L619.4,811 L621.4,808.5 L623.4,806.2 L625.4,804.4 L627.4,803.3 L629.4,803 L631.4,803.5 L633.4,804.7 L635.4,806.6 L637.4,809 L639.4,811.6 L641.4,814.2 L643.4,816.5 L645.4,818.3 L647.4,819.6 L649.4,820 L651.4,819.6 L653.4,818.5 L655.4,816.7 L657.4,814.4 L659.4,811.8 L661.4,809.2 L663.4,806.8 L665.4,804.9 L667.4,803.6 L669.4,803 L671.4,803.3 L673.4,804.3 L675.4,806 L677.4,808.2 L679.4,810.8 L681.4,813.4 L683.4,815.8 L685.4,817.8 L687.4,819.3 L689.4,820 L691.4,819.8 L693.4,818.9 L695.4,817.3 L697.4,815.1 L699.4,812.6 L701.4,810 L703.4,807.5 L705.4,805.4 L707.4,803.9 L709.4,803.1 L711.4,803.1 L713.4,803.9 L715.4,805.4 L717.4,807.5 L719.4,810 L721.4,812.6 L723.4,815.1 L725.4,817.3 L727.4,818.9 L729.4,819.8 L731.4,820 L733.4,819.3 L735.4,817.8 L737.4,815.8 L739.4,813.4 L741.4,810.8 L743.4,808.2 L745.4,806 L747.4,804.3 L749.4,803.3 L751.4,803 L753.4,803.6 L755.4,804.9 L757.4,806.8 L759.4,809.2 L761.4,811.8 L763.4,814.4 L765.4,816.7 L767.4,818.5 L769.4,819.6 L771.4,820 L773.4,819.6 L775.4,818.3 L777.4,816.5 L779.4,814.2 L781.4,811.6 L783.4,809 L785.4,806.6 L787.4,804.7 L789.4,803.5 L791.4,803 L793.4,803.3 L795.4,804.4 L797.4,806.2 L799.4,808.5 L801.4,811" fill="none" stroke="#d62a2a" stroke-width="2.8"/>
<path d="M519,781 L518.2,778.6 L520.6,777.3 L521.2,775.7 L522.1,774 L524,772.9 L526.5,772.4 L529.2,771.7 L532.5,771.3 L536.1,770.8 L540,770.2 L544.2,768 L549.3,769.5 L554.4,767.5 L559.7,768 L565,768.9 L570.5,769.1 L576.5,767.7 L582.4,768.2 L587.5,770.5 L592,771.1 L595.3,771.8 L598.2,771.8 L599.7,773.7 L601.6,774.9 L602.9,777.1 L605.1,779.1 L607.7,781.4 L608.8,784.7 L610.6,787.4 L610.5,790.1 L610.9,792.2 L610.1,794.3 L609.2,796.4 L607.5,798 L605.8,799.7 L604.1,802.1 L600.9,802.5 L597.7,803.3 L595.1,805.6 L592,806 L589.6,807.4 L587.2,808.7 L585.9,811.4 L583,812.2 L580.2,813.7 L576.5,814 L572.4,815.2 L568,814.1 L563.8,815.2 L559.9,815.7 L556.7,813.9 L553.6,813.7 L550.9,812.2 L547.9,811.3 L545.1,809.8 L541.2,809.8 L538.9,806.4 L535.8,804.4 L532.7,802.7 L529.3,802.2 L527,800.6 L524.7,798.9 L522.6,797.5 L519.7,797.5 L519.1,795 L518.2,792.6 L517.5,789.7 L517.9,786.5 L518.4,783.5Z" fill="#d97070"/>
<g fill="#e27f7f" opacity="0.3"><circle cx="545" cy="780" r="6"/><circle cx="575" cy="778" r="7"/><circle cx="595" cy="790" r="5"/><circle cx="560" cy="803" r="6"/><circle cx="530" cy="792" r="5"/></g>
<text x="531" y="797.8" font-size="17" fill="#111" stroke="#111" stroke-width="0.2" textLength="65.3" lengthAdjust="spacingAndGlyphs">NKX2-3</text>
<path d="M685,804.9 C684.7,801.4 686,793.8 688,789.8 C690,785.7 692.2,783.3 697.1,780.7 C702,778 711.6,773.8 717.4,774 C723.1,774.2 725.7,781.2 731.4,781.7 C737.1,782.1 746.7,776.1 751.6,776.6 C756.5,777.1 759.2,780.8 760.7,784.7 C762.2,788.5 761.7,795.7 760.7,799.9 C759.7,804.1 758.2,809.2 754.7,810 C751.2,810.8 743.4,806.1 739.5,804.9 C735.6,803.7 734.3,801.4 731.4,802.9 C728.6,804.4 725,813.8 722.4,814 C719.7,814.2 718.1,805.6 715.3,803.9 C712.4,802.2 709.4,802.7 705.2,803.9 C701,805.1 693.5,810.8 690.1,811 C686.7,811.2 685.3,808.4 685,804.9Z" fill="#2e7478" stroke="#1f5a5f" stroke-width="1.6"/>
<text x="701.5" y="799.3" font-size="16.5" fill="#fff" stroke="#fff" stroke-width="0.25" textLength="35.5" lengthAdjust="spacingAndGlyphs">NB2</text>
<text x="608" y="730.2" font-size="18" style="font-style:italic" fill="#1d4d80" textLength="63" lengthAdjust="spacingAndGlyphs" stroke="#1d4d80">PDE1C</text>
<path d="M559.3,769.6 L559.3,726 L593,726" fill="none" stroke="#1a1a1a" stroke-width="1.8"/><path d="M591,720 L603,726 L591,732 Z" fill="#1a1a1a"/>
<path d="M711.9,774 L711.9,726.7 L684,726.7" fill="none" stroke="#1a1a1a" stroke-width="1.8"/><path d="M686,720.7 L674,726.7 L686,732.7 Z" fill="#1a1a1a"/>
<path d="M701.5,750.4 L723.7,768.1" stroke="#c0474a" stroke-width="3" stroke-linecap="round"/><path d="M723.7,750.4 L701.5,768.1" stroke="#c0474a" stroke-width="3" stroke-linecap="round"/>
<rect x="445.1" y="323.6" width="488.8" height="504.3" fill="none" stroke="#fff" stroke-width="1.4"/>
<rect x="444.5" y="323" width="490" height="505.5" fill="none" stroke="#276a60" stroke-width="2.6" stroke-dasharray="7.35 7.35"/>
<rect x="14.5" y="837.5" width="922" height="90.5" fill="#f2f6fb" stroke="#b9c9db" stroke-width="2.5"/>
<use href="#peri" transform="translate(28.5,838.5) scale(0.61)" style="--f:#9bd4cb;--o:#3c8a80;--n:#6cb6aa;--bw:3;--fw:0.4"/>
<use href="#peri" transform="translate(109.5,838.5) scale(0.6)" style="--f:#fbc48c;--o:#c8873f;--n:#eda26a;--bw:3;--fw:0.4"/>
<text x="205.1" y="865.3" font-size="20" fill="#2e5fa8" textLength="148.9" lengthAdjust="spacingAndGlyphs" stroke="#2e5fa8">Tumor pericytes</text>
<text x="154.9" y="912.2" font-size="18.5" fill="#2e5fa8" textLength="287.1" lengthAdjust="spacingAndGlyphs" stroke="#2e5fa8">Degraded basement membrane</text>
<rect x="40.7" y="903" width="28" height="8.7" fill="#a5454a"/><rect x="99" y="900.7" width="28" height="9.7" fill="#a5454a"/>
<rect x="40.7" y="906.5" width="28" height="1" fill="#c07075"/><rect x="99" y="904.8" width="28" height="1" fill="#c07075"/>
<rect x="73" y="905.2" width="6" height="5.5" fill="#b8141c" transform="rotate(-30 76 908)"/>
<rect x="80.8" y="898" width="6" height="5.5" fill="#b8141c" transform="rotate(15 83.8 900.7)"/>
<rect x="89.5" y="907.6" width="6" height="5.5" fill="#b8141c" transform="rotate(-10 92.5 910.4)"/>
<g transform="translate(434.8,858) rotate(0)"><ellipse rx="20.5" ry="12.5" fill="#a5564f" stroke="#8a3f3a" stroke-width="0.8"/><path d="M-11.3,-0.6 C-11.3,-7.5 4.1,-9.4 7.2,-5.6 C-2.1,-6.2 -5.1,-1.2 -6.1,3.1 Z" fill="#874540"/><path d="M1,5.6 C8.2,5.6 11.3,2.5 10.2,-1.9" fill="none" stroke="#c0706a" stroke-width="1.5" stroke-linecap="round"/></g>
<text x="470.3" y="866.1" font-size="19.5" fill="#1d4f8a" textLength="128.7" lengthAdjust="spacingAndGlyphs" stroke="#1d4f8a">Red blood cell</text>
<path d="M462.6,876.2 L465.5,875.7 L469.1,875.5 L472.8,875 L475.9,875.3 L478.3,875.5 L480.2,875.8 L482,876.2 L483.9,877.1 L486.3,878.4 L489.6,879.4 L490.8,882.7 L492,885.1 L492.3,887.6 L491.7,890.6 L491,893.5 L490.6,896.1 L491.3,898.3 L490.3,900.1 L489.9,901.8 L490.4,903.5 L491.2,905.3 L491.9,907.3 L492.9,909.1 L494.3,910.4 L496,910.5 L497.8,910.3 L499.8,910.4 L501.9,910.6 L504.4,911.8 L507.4,913 L509.9,914.7 L511.3,916.2 L511.5,917.7 L510.6,919.4 L509.4,921.1 L507.8,922 L506.3,922.5 L504.4,922.2 L502.2,923.1 L501,921.4 L500.3,920.3 L499.7,919.1 L499,917.6 L498.1,916.1 L495.9,914.9 L495.4,912 L493.5,910.1 L491.5,908.7 L488.9,909.3 L486.9,907.2 L484.4,907.2 L481.9,907.3 L479.7,908.9 L477.1,908 L474.7,909.6 L472.2,908.2 L469.5,907.7 L466.8,906.6 L463.4,906.5 L461.9,903.5 L460.1,900.3 L458.8,896.2 L457.5,892.1 L456.7,888.7 L456.2,886.4 L456.5,884.8 L456.9,883.5 L456.2,881.5 L458.1,880.3 L458.1,877.8 L460.7,877.2Z" fill="#ef9494" stroke="#d46e6e" stroke-width="0.7"/>
<path d="M470,890.2 C471.6,888.8 477.4,888.4 479.6,889.4 C481.8,890.4 481.8,893.6 483.3,896.1 C484.8,898.6 489.9,903.2 488.5,904.3 C487.1,905.4 478.3,903.9 475.2,902.8 C472.1,901.7 470.9,899.7 470,897.6 C469.1,895.5 468.4,891.6 470,890.2Z" fill="#da6c6e"/>
<g fill="#d46e6e"><circle cx="485.5" cy="899.4" r="0.4"/><circle cx="481.2" cy="901.9" r="0.4"/><circle cx="480.7" cy="881.7" r="0.4"/><circle cx="471.1" cy="900.6" r="0.4"/><circle cx="471.6" cy="878.4" r="0.4"/><circle cx="468.4" cy="882.9" r="0.4"/><circle cx="466.7" cy="898.2" r="0.4"/><circle cx="472.1" cy="882.4" r="0.4"/><circle cx="462.8" cy="889.6" r="0.4"/><circle cx="470.5" cy="888.2" r="0.4"/><circle cx="475.5" cy="903.9" r="0.4"/><circle cx="462.3" cy="886.5" r="0.4"/><circle cx="481.4" cy="894.5" r="0.4"/><circle cx="461.7" cy="891.8" r="0.4"/></g>
<text x="507.4" y="910.2" font-size="19.5" fill="#1d4f8a" textLength="96.3" lengthAdjust="spacingAndGlyphs" stroke="#1d4f8a">Tumor cell</text>
<path d="M668.5,846 L748.9,846 C751,846 751.5,849 750.5,852 C749.5,855 747,857 745,857.3 C735,859 725,863 708.7,868.7 C695,864 685,859 672,856.5 C668,856 667,852 667,850 C667,847.5 667.5,846 668.5,846 Z" fill="#eeb1b1" stroke="#d7787c" stroke-width="1"/>
<ellipse cx="708.7" cy="859.2" rx="9" ry="4.2" fill="#e08d90" stroke="#d37a7e" stroke-width="0.6"/>
<text x="768.3" y="863.9" font-size="19.5" fill="#1d4f8a" textLength="139.1" lengthAdjust="spacingAndGlyphs" stroke="#1d4f8a">Endothelial cell</text>
<use href="#ltype" transform="translate(709.5,903.2) rotate(90) scale(0.478,0.462) translate(-546,-450.3)"/>
<text x="765.4" y="907.5" font-size="19" fill="#1d4f8a" textLength="150.6" lengthAdjust="spacingAndGlyphs" stroke="#1d4f8a">Calcium channel</text>
</svg>
</body></html>
